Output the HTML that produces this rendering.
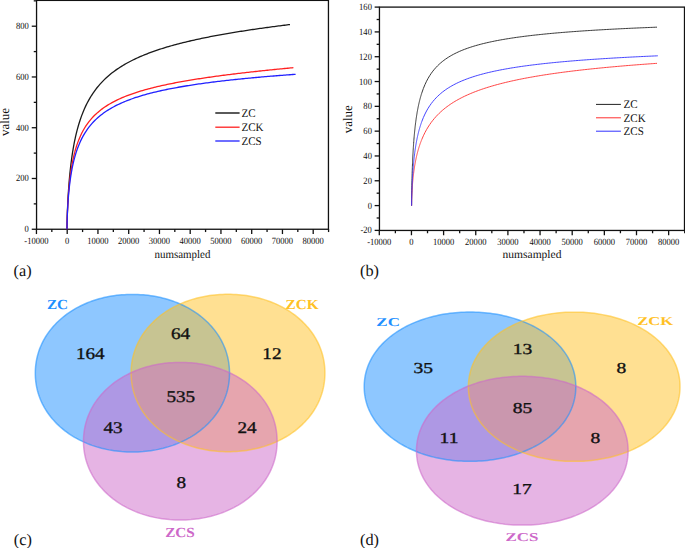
<!DOCTYPE html>
<html><head><meta charset="utf-8"><title>Figure</title>
<style>
html,body{margin:0;padding:0;background:#fff;width:685px;height:548px;overflow:hidden;}
svg{display:block;font-family:"Liberation Serif",serif;text-rendering:geometricPrecision;}
</style></head><body>
<svg width="685" height="548" viewBox="0 0 685 548">
<rect width="685" height="548" fill="#fff"/>
<rect x="36.55" y="0.40" width="291.90" height="228.85" fill="none" stroke="#111" stroke-width="1.30"/>
<line x1="36.45" y1="229.25" x2="36.45" y2="234.05" stroke="#111" stroke-width="1.30"/>
<line x1="51.83" y1="229.25" x2="51.83" y2="232.05" stroke="#111" stroke-width="1.30"/>
<line x1="67.20" y1="229.25" x2="67.20" y2="234.05" stroke="#111" stroke-width="1.30"/>
<line x1="82.58" y1="229.25" x2="82.58" y2="232.05" stroke="#111" stroke-width="1.30"/>
<line x1="97.95" y1="229.25" x2="97.95" y2="234.05" stroke="#111" stroke-width="1.30"/>
<line x1="113.33" y1="229.25" x2="113.33" y2="232.05" stroke="#111" stroke-width="1.30"/>
<line x1="128.70" y1="229.25" x2="128.70" y2="234.05" stroke="#111" stroke-width="1.30"/>
<line x1="144.07" y1="229.25" x2="144.07" y2="232.05" stroke="#111" stroke-width="1.30"/>
<line x1="159.45" y1="229.25" x2="159.45" y2="234.05" stroke="#111" stroke-width="1.30"/>
<line x1="174.82" y1="229.25" x2="174.82" y2="232.05" stroke="#111" stroke-width="1.30"/>
<line x1="190.20" y1="229.25" x2="190.20" y2="234.05" stroke="#111" stroke-width="1.30"/>
<line x1="205.57" y1="229.25" x2="205.57" y2="232.05" stroke="#111" stroke-width="1.30"/>
<line x1="220.95" y1="229.25" x2="220.95" y2="234.05" stroke="#111" stroke-width="1.30"/>
<line x1="236.32" y1="229.25" x2="236.32" y2="232.05" stroke="#111" stroke-width="1.30"/>
<line x1="251.70" y1="229.25" x2="251.70" y2="234.05" stroke="#111" stroke-width="1.30"/>
<line x1="267.07" y1="229.25" x2="267.07" y2="232.05" stroke="#111" stroke-width="1.30"/>
<line x1="282.45" y1="229.25" x2="282.45" y2="234.05" stroke="#111" stroke-width="1.30"/>
<line x1="297.82" y1="229.25" x2="297.82" y2="232.05" stroke="#111" stroke-width="1.30"/>
<line x1="313.20" y1="229.25" x2="313.20" y2="234.05" stroke="#111" stroke-width="1.30"/>
<line x1="328.57" y1="229.25" x2="328.57" y2="232.05" stroke="#111" stroke-width="1.30"/>
<line x1="36.55" y1="229.25" x2="31.75" y2="229.25" stroke="#111" stroke-width="1.30"/>
<line x1="36.55" y1="203.87" x2="33.75" y2="203.87" stroke="#111" stroke-width="1.30"/>
<line x1="36.55" y1="178.49" x2="31.75" y2="178.49" stroke="#111" stroke-width="1.30"/>
<line x1="36.55" y1="153.11" x2="33.75" y2="153.11" stroke="#111" stroke-width="1.30"/>
<line x1="36.55" y1="127.73" x2="31.75" y2="127.73" stroke="#111" stroke-width="1.30"/>
<line x1="36.55" y1="102.35" x2="33.75" y2="102.35" stroke="#111" stroke-width="1.30"/>
<line x1="36.55" y1="76.97" x2="31.75" y2="76.97" stroke="#111" stroke-width="1.30"/>
<line x1="36.55" y1="51.59" x2="33.75" y2="51.59" stroke="#111" stroke-width="1.30"/>
<line x1="36.55" y1="26.21" x2="31.75" y2="26.21" stroke="#111" stroke-width="1.30"/>
<line x1="36.55" y1="0.83" x2="33.75" y2="0.83" stroke="#111" stroke-width="1.30"/>
<text transform="translate(36.45,243.8) scale(0.89,1)" font-family="Liberation Serif" font-size="9.6" text-anchor="middle" fill="#111">-10000</text>
<text transform="translate(67.20,243.8) scale(0.89,1)" font-family="Liberation Serif" font-size="9.6" text-anchor="middle" fill="#111">0</text>
<text transform="translate(97.95,243.8) scale(0.89,1)" font-family="Liberation Serif" font-size="9.6" text-anchor="middle" fill="#111">10000</text>
<text transform="translate(128.70,243.8) scale(0.89,1)" font-family="Liberation Serif" font-size="9.6" text-anchor="middle" fill="#111">20000</text>
<text transform="translate(159.45,243.8) scale(0.89,1)" font-family="Liberation Serif" font-size="9.6" text-anchor="middle" fill="#111">30000</text>
<text transform="translate(190.20,243.8) scale(0.89,1)" font-family="Liberation Serif" font-size="9.6" text-anchor="middle" fill="#111">40000</text>
<text transform="translate(220.95,243.8) scale(0.89,1)" font-family="Liberation Serif" font-size="9.6" text-anchor="middle" fill="#111">50000</text>
<text transform="translate(251.70,243.8) scale(0.89,1)" font-family="Liberation Serif" font-size="9.6" text-anchor="middle" fill="#111">60000</text>
<text transform="translate(282.45,243.8) scale(0.89,1)" font-family="Liberation Serif" font-size="9.6" text-anchor="middle" fill="#111">70000</text>
<text transform="translate(313.20,243.8) scale(0.89,1)" font-family="Liberation Serif" font-size="9.6" text-anchor="middle" fill="#111">80000</text>
<text transform="translate(28.8,232.25) scale(0.89,1)" font-family="Liberation Serif" font-size="9.6" text-anchor="end" fill="#111">0</text>
<text transform="translate(28.8,181.49) scale(0.89,1)" font-family="Liberation Serif" font-size="9.6" text-anchor="end" fill="#111">200</text>
<text transform="translate(28.8,130.73) scale(0.89,1)" font-family="Liberation Serif" font-size="9.6" text-anchor="end" fill="#111">400</text>
<text transform="translate(28.8,79.97) scale(0.89,1)" font-family="Liberation Serif" font-size="9.6" text-anchor="end" fill="#111">600</text>
<text transform="translate(28.8,29.21) scale(0.89,1)" font-family="Liberation Serif" font-size="9.6" text-anchor="end" fill="#111">800</text>
<text transform="translate(182.5,257.7) scale(0.95,1)" font-family="Liberation Serif" font-size="11.5" text-anchor="middle" fill="#111">numsampled</text>
<text transform="translate(8.8,122) rotate(-90)" font-family="Liberation Serif" font-size="13" text-anchor="middle" fill="#111">value</text>
<path d="M67.00,229.20 L67.05,224.88 L67.10,222.28 L67.15,220.12 L67.20,218.21 L67.25,216.48 L67.30,214.87 L67.35,213.36 L67.40,211.94 L67.45,210.59 L67.50,209.30 L67.55,208.07 L67.60,206.88 L67.65,205.74 L67.70,204.64 L67.75,203.57 L67.80,202.53 L67.85,201.52 L67.90,200.55 L67.95,199.59 L68.00,198.66 L68.05,197.76 L68.10,196.87 L68.15,196.01 L68.20,195.16 L68.25,194.34 L68.30,193.53 L68.35,192.73 L68.40,191.95 L68.45,191.19 L68.50,190.44 L68.55,189.70 L68.60,188.98 L68.65,188.27 L68.70,187.57 L68.75,186.88 L68.80,186.20 L68.85,185.54 L68.90,184.88 L68.95,184.24 L69.00,183.60 L69.05,182.97 L69.15,181.74 L69.25,180.54 L69.35,179.37 L69.45,178.23 L69.55,177.12 L69.65,176.03 L69.75,174.98 L69.86,173.94 L69.96,172.93 L70.06,171.94 L70.16,170.98 L70.26,170.03 L70.36,169.10 L70.46,168.20 L70.56,167.30 L70.66,166.43 L70.76,165.57 L70.86,164.73 L70.96,163.91 L71.06,163.09 L71.16,162.30 L71.26,161.51 L71.36,160.74 L71.47,159.98 L71.57,159.24 L71.67,158.50 L71.77,157.78 L71.87,157.07 L71.97,156.37 L72.07,155.68 L72.17,155.00 L72.27,154.34 L72.37,153.68 L72.47,153.03 L72.57,152.39 L72.67,151.75 L72.77,151.13 L72.87,150.52 L72.97,149.91 L73.08,149.31 L73.18,148.72 L73.28,148.14 L73.38,147.56 L73.48,146.99 L73.58,146.43 L73.68,145.88 L73.78,145.33 L73.88,144.79 L73.98,144.25 L74.08,143.73 L74.18,143.20 L74.28,142.69 L74.38,142.18 L74.48,141.67 L74.58,141.18 L74.69,140.68 L74.79,140.19 L74.89,139.71 L74.99,139.24 L75.09,138.76 L75.19,138.30 L75.29,137.83 L75.39,137.38 L75.49,136.92 L75.59,136.48 L75.69,136.03 L75.79,135.59 L75.89,135.16 L75.99,134.73 L76.09,134.30 L76.19,133.88 L76.30,133.46 L76.40,133.05 L76.50,132.64 L76.60,132.23 L76.70,131.83 L76.80,131.43 L76.90,131.04 L77.00,130.65 L77.20,129.88 L78.63,124.77 L80.06,120.22 L81.48,116.12 L82.91,112.41 L84.34,109.02 L85.77,105.90 L87.20,103.02 L88.63,100.35 L90.05,97.86 L91.48,95.53 L92.91,93.35 L94.34,91.30 L95.77,89.36 L97.19,87.53 L98.62,85.80 L100.05,84.15 L101.48,82.58 L102.91,81.08 L104.34,79.66 L105.76,78.29 L107.19,76.99 L108.62,75.73 L110.05,74.53 L111.48,73.37 L112.90,72.26 L114.33,71.19 L115.76,70.15 L117.19,69.15 L118.62,68.19 L120.05,67.25 L121.47,66.35 L122.90,65.48 L124.33,64.63 L125.76,63.80 L127.19,63.00 L128.61,62.23 L130.04,61.47 L131.47,60.74 L132.90,60.02 L134.33,59.33 L135.76,58.65 L137.18,57.99 L138.61,57.34 L140.04,56.71 L141.47,56.09 L142.90,55.49 L144.32,54.91 L145.75,54.33 L147.18,53.77 L148.61,53.22 L150.04,52.68 L151.47,52.16 L152.89,51.64 L154.32,51.13 L155.75,50.64 L157.18,50.15 L158.61,49.68 L160.03,49.21 L161.46,48.75 L162.89,48.30 L164.32,47.85 L165.75,47.42 L167.18,46.99 L168.60,46.57 L170.03,46.16 L171.46,45.75 L172.89,45.35 L174.32,44.96 L175.74,44.57 L177.17,44.19 L178.60,43.81 L180.03,43.44 L181.46,43.08 L182.89,42.72 L184.31,42.36 L185.74,42.01 L187.17,41.67 L188.60,41.33 L190.03,41.00 L191.46,40.67 L192.88,40.34 L194.31,40.02 L195.74,39.70 L197.17,39.39 L198.60,39.08 L200.02,38.77 L201.45,38.47 L202.88,38.17 L204.31,37.88 L205.74,37.59 L207.17,37.30 L208.59,37.02 L210.02,36.73 L211.45,36.46 L212.88,36.18 L214.31,35.91 L215.73,35.64 L217.16,35.38 L218.59,35.11 L220.02,34.85 L221.45,34.59 L222.88,34.34 L224.30,34.09 L225.73,33.84 L227.16,33.59 L228.59,33.34 L230.02,33.10 L231.44,32.86 L232.87,32.62 L234.30,32.39 L235.73,32.15 L237.16,31.92 L238.59,31.69 L240.01,31.46 L241.44,31.24 L242.87,31.02 L244.30,30.79 L245.73,30.57 L247.15,30.36 L248.58,30.14 L250.01,29.93 L251.44,29.71 L252.87,29.50 L254.30,29.30 L255.72,29.09 L257.15,28.88 L258.58,28.68 L260.01,28.48 L261.44,28.27 L262.86,28.08 L264.29,27.88 L265.72,27.68 L267.15,27.49 L268.58,27.29 L270.01,27.10 L271.43,26.91 L272.86,26.72 L274.29,26.53 L275.72,26.34 L277.15,26.16 L278.57,25.97 L280.00,25.79 L281.43,25.61 L282.86,25.43 L284.29,25.25 L285.72,25.07 L287.14,24.89 L288.57,24.72 L290.00,24.54" fill="none" stroke="#1a1a1a" stroke-width="1.3"/>
<path d="M67.00,229.20 L67.05,225.00 L67.10,222.52 L67.15,220.47 L67.20,218.67 L67.25,217.04 L67.30,215.54 L67.35,214.15 L67.40,212.83 L67.45,211.59 L67.50,210.41 L67.55,209.28 L67.60,208.19 L67.65,207.16 L67.70,206.15 L67.75,205.19 L67.80,204.25 L67.85,203.35 L67.90,202.47 L67.95,201.62 L68.00,200.79 L68.05,199.98 L68.10,199.20 L68.15,198.43 L68.20,197.68 L68.25,196.95 L68.30,196.24 L68.35,195.54 L68.40,194.86 L68.45,194.19 L68.50,193.53 L68.55,192.89 L68.60,192.26 L68.65,191.64 L68.70,191.03 L68.75,190.44 L68.80,189.85 L68.85,189.28 L68.90,188.71 L68.95,188.15 L69.00,187.61 L69.05,187.07 L69.15,186.01 L69.25,184.98 L69.35,183.99 L69.45,183.02 L69.55,182.08 L69.65,181.16 L69.75,180.27 L69.86,179.40 L69.96,178.55 L70.06,177.72 L70.16,176.91 L70.26,176.13 L70.36,175.35 L70.46,174.60 L70.56,173.86 L70.66,173.14 L70.76,172.43 L70.86,171.74 L70.96,171.06 L71.06,170.39 L71.16,169.74 L71.26,169.10 L71.36,168.47 L71.47,167.85 L71.57,167.24 L71.67,166.65 L71.77,166.06 L71.87,165.49 L71.97,164.92 L72.07,164.36 L72.17,163.82 L72.27,163.28 L72.37,162.75 L72.47,162.22 L72.57,161.71 L72.67,161.21 L72.77,160.71 L72.87,160.22 L72.97,159.73 L73.08,159.26 L73.18,158.79 L73.28,158.32 L73.38,157.87 L73.48,157.42 L73.58,156.97 L73.68,156.53 L73.78,156.10 L73.88,155.67 L73.98,155.25 L74.08,154.84 L74.18,154.43 L74.28,154.02 L74.38,153.62 L74.48,153.23 L74.58,152.83 L74.69,152.45 L74.79,152.07 L74.89,151.69 L74.99,151.32 L75.09,150.95 L75.19,150.59 L75.29,150.23 L75.39,149.87 L75.49,149.52 L75.59,149.18 L75.69,148.83 L75.79,148.49 L75.89,148.16 L75.99,147.82 L76.09,147.49 L76.19,147.17 L76.30,146.85 L76.40,146.53 L76.50,146.21 L76.60,145.90 L76.70,145.59 L76.80,145.29 L76.90,144.98 L77.00,144.68 L77.20,144.10 L78.65,140.15 L80.10,136.67 L81.55,133.57 L83.00,130.79 L84.46,128.26 L85.91,125.95 L87.36,123.84 L88.81,121.88 L90.26,120.07 L91.71,118.39 L93.16,116.81 L94.61,115.33 L96.06,113.94 L97.51,112.64 L98.97,111.40 L100.42,110.23 L101.87,109.11 L103.32,108.06 L104.77,107.05 L106.22,106.09 L107.67,105.16 L109.12,104.28 L110.57,103.44 L112.02,102.63 L113.48,101.85 L114.93,101.09 L116.38,100.37 L117.83,99.67 L119.28,99.00 L120.73,98.34 L122.18,97.71 L123.63,97.10 L125.08,96.51 L126.53,95.94 L127.99,95.38 L129.44,94.84 L130.89,94.31 L132.34,93.80 L133.79,93.30 L135.24,92.81 L136.69,92.34 L138.14,91.88 L139.59,91.43 L141.04,90.99 L142.50,90.56 L143.95,90.14 L145.40,89.73 L146.85,89.33 L148.30,88.93 L149.75,88.55 L151.20,88.17 L152.65,87.80 L154.10,87.44 L155.55,87.09 L157.01,86.74 L158.46,86.40 L159.91,86.06 L161.36,85.73 L162.81,85.41 L164.26,85.09 L165.71,84.78 L167.16,84.47 L168.61,84.17 L170.06,83.87 L171.52,83.58 L172.97,83.29 L174.42,83.01 L175.87,82.73 L177.32,82.45 L178.77,82.18 L180.22,81.92 L181.67,81.65 L183.12,81.39 L184.57,81.14 L186.03,80.88 L187.48,80.63 L188.93,80.39 L190.38,80.14 L191.83,79.90 L193.28,79.67 L194.73,79.43 L196.18,79.20 L197.63,78.97 L199.08,78.75 L200.54,78.53 L201.99,78.31 L203.44,78.09 L204.89,77.87 L206.34,77.66 L207.79,77.45 L209.24,77.24 L210.69,77.03 L212.14,76.83 L213.59,76.63 L215.05,76.43 L216.50,76.23 L217.95,76.03 L219.40,75.84 L220.85,75.64 L222.30,75.45 L223.75,75.26 L225.20,75.08 L226.65,74.89 L228.10,74.71 L229.56,74.52 L231.01,74.34 L232.46,74.16 L233.91,73.99 L235.36,73.81 L236.81,73.63 L238.26,73.46 L239.71,73.29 L241.16,73.12 L242.61,72.95 L244.07,72.78 L245.52,72.61 L246.97,72.45 L248.42,72.28 L249.87,72.12 L251.32,71.96 L252.77,71.80 L254.22,71.64 L255.67,71.48 L257.12,71.32 L258.58,71.17 L260.03,71.01 L261.48,70.86 L262.93,70.70 L264.38,70.55 L265.83,70.40 L267.28,70.25 L268.73,70.10 L270.18,69.95 L271.63,69.81 L273.09,69.66 L274.54,69.51 L275.99,69.37 L277.44,69.22 L278.89,69.08 L280.34,68.94 L281.79,68.80 L283.24,68.66 L284.69,68.52 L286.14,68.38 L287.60,68.24 L289.05,68.10 L290.50,67.96 L291.95,67.83 L293.40,67.69" fill="none" stroke="#ff2020" stroke-width="1.3"/>
<path d="M67.00,229.20 L67.05,224.96 L67.10,222.58 L67.15,220.64 L67.20,218.96 L67.25,217.43 L67.30,216.04 L67.35,214.74 L67.40,213.53 L67.45,212.38 L67.50,211.29 L67.55,210.25 L67.60,209.25 L67.65,208.30 L67.70,207.38 L67.75,206.49 L67.80,205.64 L67.85,204.81 L67.90,204.00 L67.95,203.22 L68.00,202.46 L68.05,201.72 L68.10,201.00 L68.15,200.30 L68.20,199.61 L68.25,198.94 L68.30,198.28 L68.35,197.64 L68.40,197.02 L68.45,196.40 L68.50,195.80 L68.55,195.21 L68.60,194.63 L68.65,194.06 L68.70,193.50 L68.75,192.95 L68.80,192.42 L68.85,191.89 L68.90,191.36 L68.95,190.85 L69.00,190.35 L69.05,189.85 L69.15,188.88 L69.25,187.93 L69.35,187.01 L69.45,186.11 L69.55,185.24 L69.65,184.40 L69.75,183.57 L69.86,182.76 L69.96,181.98 L70.06,181.21 L70.16,180.46 L70.26,179.72 L70.36,179.01 L70.46,178.30 L70.56,177.61 L70.66,176.94 L70.76,176.28 L70.86,175.63 L70.96,175.00 L71.06,174.37 L71.16,173.76 L71.26,173.16 L71.36,172.57 L71.47,171.99 L71.57,171.42 L71.67,170.86 L71.77,170.31 L71.87,169.77 L71.97,169.23 L72.07,168.71 L72.17,168.19 L72.27,167.68 L72.37,167.18 L72.47,166.69 L72.57,166.20 L72.67,165.72 L72.77,165.25 L72.87,164.79 L72.97,164.33 L73.08,163.87 L73.18,163.43 L73.28,162.99 L73.38,162.55 L73.48,162.12 L73.58,161.70 L73.68,161.28 L73.78,160.87 L73.88,160.46 L73.98,160.06 L74.08,159.66 L74.18,159.27 L74.28,158.88 L74.38,158.50 L74.48,158.12 L74.58,157.75 L74.69,157.38 L74.79,157.01 L74.89,156.65 L74.99,156.29 L75.09,155.94 L75.19,155.59 L75.29,155.24 L75.39,154.90 L75.49,154.56 L75.59,154.23 L75.69,153.90 L75.79,153.57 L75.89,153.24 L75.99,152.92 L76.09,152.60 L76.19,152.29 L76.30,151.98 L76.40,151.67 L76.50,151.36 L76.60,151.06 L76.70,150.76 L76.80,150.46 L76.90,150.17 L77.00,149.88 L77.20,149.31 L78.67,145.42 L80.13,141.98 L81.60,138.90 L83.06,136.12 L84.53,133.59 L85.99,131.28 L87.46,129.14 L88.93,127.17 L90.39,125.33 L91.86,123.62 L93.32,122.02 L94.79,120.52 L96.26,119.10 L97.72,117.76 L99.19,116.50 L100.65,115.30 L102.12,114.16 L103.58,113.08 L105.05,112.04 L106.52,111.05 L107.98,110.11 L109.45,109.21 L110.91,108.34 L112.38,107.51 L113.84,106.71 L115.31,105.94 L116.78,105.19 L118.24,104.48 L119.71,103.79 L121.17,103.12 L122.64,102.48 L124.10,101.85 L125.57,101.25 L127.04,100.66 L128.50,100.10 L129.97,99.54 L131.43,99.01 L132.90,98.49 L134.37,97.98 L135.83,97.49 L137.30,97.01 L138.76,96.55 L140.23,96.09 L141.69,95.65 L143.16,95.22 L144.63,94.80 L146.09,94.39 L147.56,93.99 L149.02,93.60 L150.49,93.21 L151.95,92.84 L153.42,92.47 L154.89,92.11 L156.35,91.76 L157.82,91.42 L159.28,91.08 L160.75,90.75 L162.21,90.43 L163.68,90.11 L165.15,89.80 L166.61,89.50 L168.08,89.20 L169.54,88.91 L171.01,88.62 L172.48,88.33 L173.94,88.06 L175.41,87.78 L176.87,87.52 L178.34,87.25 L179.80,86.99 L181.27,86.74 L182.74,86.49 L184.20,86.24 L185.67,86.00 L187.13,85.76 L188.60,85.52 L190.06,85.29 L191.53,85.07 L193.00,84.84 L194.46,84.62 L195.93,84.40 L197.39,84.19 L198.86,83.98 L200.32,83.77 L201.79,83.56 L203.26,83.36 L204.72,83.16 L206.19,82.96 L207.65,82.77 L209.12,82.57 L210.59,82.38 L212.05,82.20 L213.52,82.01 L214.98,81.83 L216.45,81.65 L217.91,81.47 L219.38,81.30 L220.85,81.12 L222.31,80.95 L223.78,80.78 L225.24,80.61 L226.71,80.45 L228.17,80.29 L229.64,80.12 L231.11,79.96 L232.57,79.81 L234.04,79.65 L235.50,79.49 L236.97,79.34 L238.43,79.19 L239.90,79.04 L241.37,78.89 L242.83,78.75 L244.30,78.60 L245.76,78.46 L247.23,78.32 L248.70,78.18 L250.16,78.04 L251.63,77.90 L253.09,77.76 L254.56,77.63 L256.02,77.49 L257.49,77.36 L258.96,77.23 L260.42,77.10 L261.89,76.97 L263.35,76.84 L264.82,76.72 L266.28,76.59 L267.75,76.47 L269.22,76.34 L270.68,76.22 L272.15,76.10 L273.61,75.98 L275.08,75.86 L276.54,75.74 L278.01,75.63 L279.48,75.51 L280.94,75.40 L282.41,75.28 L283.87,75.17 L285.34,75.06 L286.81,74.95 L288.27,74.84 L289.74,74.73 L291.20,74.62 L292.67,74.51 L294.13,74.40 L295.60,74.30" fill="none" stroke="#2020ff" stroke-width="1.3"/>
<line x1="215.3" y1="113.0" x2="239.6" y2="113.0" stroke="#000" stroke-width="1.3"/>
<text transform="translate(241.4,116.9) scale(0.95,1)" font-family="Liberation Serif" font-size="11.6" fill="#111">ZC</text>
<line x1="215.3" y1="127.2" x2="239.6" y2="127.2" stroke="#ff2020" stroke-width="1.3"/>
<text transform="translate(241.4,131.1) scale(0.95,1)" font-family="Liberation Serif" font-size="11.6" fill="#111">ZCK</text>
<line x1="215.3" y1="141.0" x2="239.6" y2="141.0" stroke="#2020ff" stroke-width="1.3"/>
<text transform="translate(241.4,144.9) scale(0.95,1)" font-family="Liberation Serif" font-size="11.6" fill="#111">ZCS</text>
<text x="13.6" y="275.8" font-family="Liberation Serif" font-size="16.3" fill="#111">(a)</text>
<rect x="379.45" y="7.10" width="305.05" height="223.35" fill="none" stroke="#111" stroke-width="1.30"/>
<line x1="379.30" y1="230.45" x2="379.30" y2="235.25" stroke="#111" stroke-width="1.30"/>
<line x1="395.38" y1="230.45" x2="395.38" y2="233.25" stroke="#111" stroke-width="1.30"/>
<line x1="411.45" y1="230.45" x2="411.45" y2="235.25" stroke="#111" stroke-width="1.30"/>
<line x1="427.52" y1="230.45" x2="427.52" y2="233.25" stroke="#111" stroke-width="1.30"/>
<line x1="443.60" y1="230.45" x2="443.60" y2="235.25" stroke="#111" stroke-width="1.30"/>
<line x1="459.68" y1="230.45" x2="459.68" y2="233.25" stroke="#111" stroke-width="1.30"/>
<line x1="475.75" y1="230.45" x2="475.75" y2="235.25" stroke="#111" stroke-width="1.30"/>
<line x1="491.82" y1="230.45" x2="491.82" y2="233.25" stroke="#111" stroke-width="1.30"/>
<line x1="507.90" y1="230.45" x2="507.90" y2="235.25" stroke="#111" stroke-width="1.30"/>
<line x1="523.98" y1="230.45" x2="523.98" y2="233.25" stroke="#111" stroke-width="1.30"/>
<line x1="540.05" y1="230.45" x2="540.05" y2="235.25" stroke="#111" stroke-width="1.30"/>
<line x1="556.12" y1="230.45" x2="556.12" y2="233.25" stroke="#111" stroke-width="1.30"/>
<line x1="572.20" y1="230.45" x2="572.20" y2="235.25" stroke="#111" stroke-width="1.30"/>
<line x1="588.27" y1="230.45" x2="588.27" y2="233.25" stroke="#111" stroke-width="1.30"/>
<line x1="604.35" y1="230.45" x2="604.35" y2="235.25" stroke="#111" stroke-width="1.30"/>
<line x1="620.42" y1="230.45" x2="620.42" y2="233.25" stroke="#111" stroke-width="1.30"/>
<line x1="636.50" y1="230.45" x2="636.50" y2="235.25" stroke="#111" stroke-width="1.30"/>
<line x1="652.58" y1="230.45" x2="652.58" y2="233.25" stroke="#111" stroke-width="1.30"/>
<line x1="668.65" y1="230.45" x2="668.65" y2="235.25" stroke="#111" stroke-width="1.30"/>
<line x1="684.72" y1="230.45" x2="684.72" y2="233.25" stroke="#111" stroke-width="1.30"/>
<line x1="379.45" y1="230.39" x2="374.65" y2="230.39" stroke="#111" stroke-width="1.30"/>
<line x1="379.45" y1="217.99" x2="376.65" y2="217.99" stroke="#111" stroke-width="1.30"/>
<line x1="379.45" y1="205.58" x2="374.65" y2="205.58" stroke="#111" stroke-width="1.30"/>
<line x1="379.45" y1="193.18" x2="376.65" y2="193.18" stroke="#111" stroke-width="1.30"/>
<line x1="379.45" y1="180.77" x2="374.65" y2="180.77" stroke="#111" stroke-width="1.30"/>
<line x1="379.45" y1="168.37" x2="376.65" y2="168.37" stroke="#111" stroke-width="1.30"/>
<line x1="379.45" y1="155.96" x2="374.65" y2="155.96" stroke="#111" stroke-width="1.30"/>
<line x1="379.45" y1="143.56" x2="376.65" y2="143.56" stroke="#111" stroke-width="1.30"/>
<line x1="379.45" y1="131.15" x2="374.65" y2="131.15" stroke="#111" stroke-width="1.30"/>
<line x1="379.45" y1="118.75" x2="376.65" y2="118.75" stroke="#111" stroke-width="1.30"/>
<line x1="379.45" y1="106.34" x2="374.65" y2="106.34" stroke="#111" stroke-width="1.30"/>
<line x1="379.45" y1="93.94" x2="376.65" y2="93.94" stroke="#111" stroke-width="1.30"/>
<line x1="379.45" y1="81.53" x2="374.65" y2="81.53" stroke="#111" stroke-width="1.30"/>
<line x1="379.45" y1="69.13" x2="376.65" y2="69.13" stroke="#111" stroke-width="1.30"/>
<line x1="379.45" y1="56.72" x2="374.65" y2="56.72" stroke="#111" stroke-width="1.30"/>
<line x1="379.45" y1="44.32" x2="376.65" y2="44.32" stroke="#111" stroke-width="1.30"/>
<line x1="379.45" y1="31.91" x2="374.65" y2="31.91" stroke="#111" stroke-width="1.30"/>
<line x1="379.45" y1="19.51" x2="376.65" y2="19.51" stroke="#111" stroke-width="1.30"/>
<line x1="379.45" y1="7.10" x2="374.65" y2="7.10" stroke="#111" stroke-width="1.30"/>
<text transform="translate(379.30,244.8) scale(0.89,1)" font-family="Liberation Serif" font-size="9.6" text-anchor="middle" fill="#111">-10000</text>
<text transform="translate(411.45,244.8) scale(0.89,1)" font-family="Liberation Serif" font-size="9.6" text-anchor="middle" fill="#111">0</text>
<text transform="translate(443.60,244.8) scale(0.89,1)" font-family="Liberation Serif" font-size="9.6" text-anchor="middle" fill="#111">10000</text>
<text transform="translate(475.75,244.8) scale(0.89,1)" font-family="Liberation Serif" font-size="9.6" text-anchor="middle" fill="#111">20000</text>
<text transform="translate(507.90,244.8) scale(0.89,1)" font-family="Liberation Serif" font-size="9.6" text-anchor="middle" fill="#111">30000</text>
<text transform="translate(540.05,244.8) scale(0.89,1)" font-family="Liberation Serif" font-size="9.6" text-anchor="middle" fill="#111">40000</text>
<text transform="translate(572.20,244.8) scale(0.89,1)" font-family="Liberation Serif" font-size="9.6" text-anchor="middle" fill="#111">50000</text>
<text transform="translate(604.35,244.8) scale(0.89,1)" font-family="Liberation Serif" font-size="9.6" text-anchor="middle" fill="#111">60000</text>
<text transform="translate(636.50,244.8) scale(0.89,1)" font-family="Liberation Serif" font-size="9.6" text-anchor="middle" fill="#111">70000</text>
<text transform="translate(668.65,244.8) scale(0.89,1)" font-family="Liberation Serif" font-size="9.6" text-anchor="middle" fill="#111">80000</text>
<text transform="translate(371.9,233.39) scale(0.89,1)" font-family="Liberation Serif" font-size="9.6" text-anchor="end" fill="#111">-20</text>
<text transform="translate(371.9,208.58) scale(0.89,1)" font-family="Liberation Serif" font-size="9.6" text-anchor="end" fill="#111">0</text>
<text transform="translate(371.9,183.77) scale(0.89,1)" font-family="Liberation Serif" font-size="9.6" text-anchor="end" fill="#111">20</text>
<text transform="translate(371.9,158.96) scale(0.89,1)" font-family="Liberation Serif" font-size="9.6" text-anchor="end" fill="#111">40</text>
<text transform="translate(371.9,134.15) scale(0.89,1)" font-family="Liberation Serif" font-size="9.6" text-anchor="end" fill="#111">60</text>
<text transform="translate(371.9,109.34) scale(0.89,1)" font-family="Liberation Serif" font-size="9.6" text-anchor="end" fill="#111">80</text>
<text transform="translate(371.9,84.53) scale(0.89,1)" font-family="Liberation Serif" font-size="9.6" text-anchor="end" fill="#111">100</text>
<text transform="translate(371.9,59.72) scale(0.89,1)" font-family="Liberation Serif" font-size="9.6" text-anchor="end" fill="#111">120</text>
<text transform="translate(371.9,34.91) scale(0.89,1)" font-family="Liberation Serif" font-size="9.6" text-anchor="end" fill="#111">140</text>
<text transform="translate(371.9,10.10) scale(0.89,1)" font-family="Liberation Serif" font-size="9.6" text-anchor="end" fill="#111">160</text>
<text x="532" y="257.7" font-family="Liberation Serif" font-size="11.5" text-anchor="middle" fill="#111">numsampled</text>
<text transform="translate(351.7,119.2) rotate(-90)" font-family="Liberation Serif" font-size="13" text-anchor="middle" fill="#111">value</text>
<path d="M411.60,205.70 L411.65,198.18 L411.70,194.03 L411.75,190.70 L411.80,187.83 L411.85,185.27 L411.90,182.94 L411.95,180.80 L412.00,178.81 L412.05,176.94 L412.10,175.18 L412.15,173.52 L412.20,171.93 L412.25,170.42 L412.30,168.98 L412.35,167.59 L412.40,166.26 L412.45,164.97 L412.50,163.74 L412.55,162.54 L412.60,161.39 L412.65,160.27 L412.70,159.18 L412.75,158.13 L412.80,157.10 L412.85,156.11 L412.90,155.14 L412.95,154.19 L413.00,153.27 L413.05,152.38 L413.10,151.50 L413.15,150.64 L413.20,149.81 L413.25,148.99 L413.30,148.19 L413.35,147.40 L413.40,146.64 L413.45,145.89 L413.50,145.15 L413.55,144.43 L413.60,143.72 L413.65,143.02 L413.75,141.66 L413.85,140.35 L413.95,139.09 L414.05,137.86 L414.15,136.68 L414.25,135.53 L414.35,134.41 L414.46,133.34 L414.56,132.29 L414.66,131.27 L414.76,130.28 L414.86,129.31 L414.96,128.37 L415.06,127.46 L415.16,126.56 L415.26,125.69 L415.36,124.84 L415.46,124.01 L415.56,123.20 L415.66,122.41 L415.76,121.64 L415.86,120.88 L415.96,120.14 L416.07,119.41 L416.17,118.70 L416.27,118.00 L416.37,117.32 L416.47,116.65 L416.57,116.00 L416.67,115.35 L416.77,114.72 L416.87,114.10 L416.97,113.49 L417.07,112.89 L417.17,112.31 L417.27,111.73 L417.37,111.16 L417.47,110.61 L417.57,110.06 L417.68,109.52 L417.78,108.99 L417.88,108.47 L417.98,107.95 L418.08,107.45 L418.18,106.95 L418.28,106.46 L418.38,105.98 L418.48,105.50 L418.58,105.04 L418.68,104.57 L418.78,104.12 L418.88,103.67 L418.98,103.23 L419.08,102.80 L419.18,102.37 L419.29,101.94 L419.39,101.52 L419.49,101.11 L419.59,100.71 L419.69,100.31 L419.79,99.91 L419.89,99.52 L419.99,99.13 L420.09,98.75 L420.19,98.38 L420.29,98.00 L420.39,97.64 L420.49,97.27 L420.59,96.92 L420.69,96.56 L420.79,96.21 L420.90,95.87 L421.00,95.53 L421.10,95.19 L421.20,94.86 L421.30,94.53 L421.40,94.20 L421.50,93.88 L421.60,93.56 L421.80,92.94 L423.38,88.45 L424.96,84.61 L426.54,81.26 L428.11,78.30 L429.69,75.67 L431.27,73.31 L432.85,71.17 L434.43,69.22 L436.01,67.44 L437.59,65.79 L439.16,64.28 L440.74,62.87 L442.32,61.56 L443.90,60.33 L445.48,59.18 L447.06,58.10 L448.63,57.09 L450.21,56.13 L451.79,55.22 L453.37,54.36 L454.95,53.55 L456.53,52.77 L458.11,52.03 L459.68,51.32 L461.26,50.65 L462.84,50.01 L464.42,49.39 L466.00,48.80 L467.58,48.23 L469.16,47.68 L470.73,47.16 L472.31,46.65 L473.89,46.17 L475.47,45.70 L477.05,45.24 L478.63,44.80 L480.21,44.38 L481.78,43.97 L483.36,43.57 L484.94,43.19 L486.52,42.82 L488.10,42.46 L489.68,42.11 L491.26,41.77 L492.83,41.44 L494.41,41.11 L495.99,40.80 L497.57,40.50 L499.15,40.20 L500.73,39.91 L502.30,39.63 L503.88,39.36 L505.46,39.09 L507.04,38.83 L508.62,38.58 L510.20,38.33 L511.78,38.09 L513.35,37.85 L514.93,37.62 L516.51,37.39 L518.09,37.17 L519.67,36.96 L521.25,36.75 L522.83,36.54 L524.40,36.34 L525.98,36.14 L527.56,35.94 L529.14,35.75 L530.72,35.57 L532.30,35.38 L533.88,35.20 L535.45,35.03 L537.03,34.86 L538.61,34.69 L540.19,34.52 L541.77,34.36 L543.35,34.20 L544.92,34.04 L546.50,33.88 L548.08,33.73 L549.66,33.58 L551.24,33.44 L552.82,33.29 L554.40,33.15 L555.97,33.01 L557.55,32.87 L559.13,32.74 L560.71,32.61 L562.29,32.48 L563.87,32.35 L565.45,32.22 L567.02,32.10 L568.60,31.97 L570.18,31.85 L571.76,31.74 L573.34,31.62 L574.92,31.50 L576.50,31.39 L578.07,31.28 L579.65,31.17 L581.23,31.06 L582.81,30.95 L584.39,30.84 L585.97,30.74 L587.54,30.64 L589.12,30.54 L590.70,30.44 L592.28,30.34 L593.86,30.24 L595.44,30.14 L597.02,30.05 L598.59,29.95 L600.17,29.86 L601.75,29.77 L603.33,29.68 L604.91,29.59 L606.49,29.50 L608.07,29.42 L609.64,29.33 L611.22,29.25 L612.80,29.16 L614.38,29.08 L615.96,29.00 L617.54,28.92 L619.12,28.84 L620.69,28.76 L622.27,28.68 L623.85,28.61 L625.43,28.53 L627.01,28.45 L628.59,28.38 L630.17,28.31 L631.74,28.23 L633.32,28.16 L634.90,28.09 L636.48,28.02 L638.06,27.95 L639.64,27.88 L641.21,27.81 L642.79,27.75 L644.37,27.68 L645.95,27.61 L647.53,27.55 L649.11,27.48 L650.69,27.42 L652.26,27.36 L653.84,27.29 L655.42,27.23 L657.00,27.17" fill="none" stroke="#222" stroke-width="0.9"/>
<path d="M411.60,205.70 L411.65,201.52 L411.70,199.43 L411.75,197.77 L411.80,196.34 L411.85,195.08 L411.90,193.92 L411.95,192.86 L412.00,191.87 L412.05,190.93 L412.10,190.05 L412.15,189.21 L412.20,188.41 L412.25,187.64 L412.30,186.90 L412.35,186.19 L412.40,185.51 L412.45,184.84 L412.50,184.20 L412.55,183.58 L412.60,182.97 L412.65,182.38 L412.70,181.81 L412.75,181.25 L412.80,180.70 L412.85,180.17 L412.90,179.65 L412.95,179.14 L413.00,178.64 L413.05,178.15 L413.10,177.67 L413.15,177.20 L413.20,176.74 L413.25,176.28 L413.30,175.84 L413.35,175.40 L413.40,174.97 L413.45,174.55 L413.50,174.14 L413.55,173.73 L413.60,173.33 L413.65,172.93 L413.75,172.15 L413.85,171.39 L413.95,170.66 L414.05,169.94 L414.15,169.25 L414.25,168.57 L414.35,167.90 L414.46,167.25 L414.56,166.62 L414.66,166.00 L414.76,165.40 L414.86,164.81 L414.96,164.23 L415.06,163.66 L415.16,163.10 L415.26,162.55 L415.36,162.02 L415.46,161.49 L415.56,160.97 L415.66,160.47 L415.76,159.97 L415.86,159.48 L415.96,158.99 L416.07,158.52 L416.17,158.05 L416.27,157.59 L416.37,157.14 L416.47,156.69 L416.57,156.25 L416.67,155.82 L416.77,155.40 L416.87,154.98 L416.97,154.56 L417.07,154.15 L417.17,153.75 L417.27,153.35 L417.37,152.96 L417.47,152.57 L417.57,152.19 L417.68,151.81 L417.78,151.44 L417.88,151.07 L417.98,150.71 L418.08,150.35 L418.18,150.00 L418.28,149.65 L418.38,149.30 L418.48,148.96 L418.58,148.62 L418.68,148.29 L418.78,147.95 L418.88,147.63 L418.98,147.30 L419.08,146.98 L419.18,146.67 L419.29,146.35 L419.39,146.04 L419.49,145.74 L419.59,145.43 L419.69,145.13 L419.79,144.83 L419.89,144.54 L419.99,144.25 L420.09,143.96 L420.19,143.67 L420.29,143.39 L420.39,143.11 L420.49,142.83 L420.59,142.55 L420.69,142.28 L420.79,142.01 L420.90,141.74 L421.00,141.47 L421.10,141.21 L421.20,140.95 L421.30,140.69 L421.40,140.43 L421.50,140.18 L421.60,139.93 L421.80,139.43 L423.38,135.79 L424.96,132.55 L426.54,129.64 L428.11,127.00 L429.69,124.58 L431.27,122.35 L432.85,120.29 L434.43,118.38 L436.01,116.59 L437.59,114.91 L439.16,113.34 L440.74,111.85 L442.32,110.45 L443.90,109.12 L445.48,107.85 L447.06,106.65 L448.63,105.50 L450.21,104.40 L451.79,103.35 L453.37,102.35 L454.95,101.39 L456.53,100.46 L458.11,99.57 L459.68,98.71 L461.26,97.89 L462.84,97.09 L464.42,96.32 L466.00,95.58 L467.58,94.86 L469.16,94.16 L470.73,93.49 L472.31,92.83 L473.89,92.20 L475.47,91.58 L477.05,90.99 L478.63,90.40 L480.21,89.84 L481.78,89.29 L483.36,88.75 L484.94,88.23 L486.52,87.72 L488.10,87.22 L489.68,86.74 L491.26,86.27 L492.83,85.81 L494.41,85.36 L495.99,84.92 L497.57,84.49 L499.15,84.07 L500.73,83.65 L502.30,83.25 L503.88,82.86 L505.46,82.47 L507.04,82.09 L508.62,81.72 L510.20,81.36 L511.78,81.00 L513.35,80.66 L514.93,80.31 L516.51,79.98 L518.09,79.65 L519.67,79.32 L521.25,79.01 L522.83,78.70 L524.40,78.39 L525.98,78.09 L527.56,77.79 L529.14,77.50 L530.72,77.22 L532.30,76.94 L533.88,76.66 L535.45,76.39 L537.03,76.12 L538.61,75.86 L540.19,75.60 L541.77,75.34 L543.35,75.09 L544.92,74.84 L546.50,74.60 L548.08,74.36 L549.66,74.12 L551.24,73.89 L552.82,73.66 L554.40,73.44 L555.97,73.21 L557.55,72.99 L559.13,72.78 L560.71,72.56 L562.29,72.35 L563.87,72.14 L565.45,71.94 L567.02,71.74 L568.60,71.54 L570.18,71.34 L571.76,71.15 L573.34,70.95 L574.92,70.76 L576.50,70.58 L578.07,70.39 L579.65,70.21 L581.23,70.03 L582.81,69.85 L584.39,69.67 L585.97,69.50 L587.54,69.33 L589.12,69.16 L590.70,68.99 L592.28,68.82 L593.86,68.66 L595.44,68.50 L597.02,68.34 L598.59,68.18 L600.17,68.02 L601.75,67.87 L603.33,67.72 L604.91,67.56 L606.49,67.41 L608.07,67.27 L609.64,67.12 L611.22,66.97 L612.80,66.83 L614.38,66.69 L615.96,66.55 L617.54,66.41 L619.12,66.27 L620.69,66.13 L622.27,66.00 L623.85,65.87 L625.43,65.73 L627.01,65.60 L628.59,65.47 L630.17,65.34 L631.74,65.22 L633.32,65.09 L634.90,64.97 L636.48,64.84 L638.06,64.72 L639.64,64.60 L641.21,64.48 L642.79,64.36 L644.37,64.24 L645.95,64.13 L647.53,64.01 L649.11,63.89 L650.69,63.78 L652.26,63.67 L653.84,63.56 L655.42,63.45 L657.00,63.34" fill="none" stroke="#ff3030" stroke-width="0.9"/>
<path d="M411.60,205.70 L411.65,200.84 L411.70,198.14 L411.75,195.95 L411.80,194.05 L411.85,192.34 L411.90,190.78 L411.95,189.34 L412.00,187.99 L412.05,186.71 L412.10,185.51 L412.15,184.36 L412.20,183.27 L412.25,182.22 L412.30,181.21 L412.35,180.24 L412.40,179.30 L412.45,178.40 L412.50,177.52 L412.55,176.68 L412.60,175.85 L412.65,175.05 L412.70,174.27 L412.75,173.52 L412.80,172.78 L412.85,172.06 L412.90,171.35 L412.95,170.67 L413.00,169.99 L413.05,169.34 L413.10,168.69 L413.15,168.06 L413.20,167.45 L413.25,166.84 L413.30,166.25 L413.35,165.67 L413.40,165.10 L413.45,164.54 L413.50,163.99 L413.55,163.45 L413.60,162.91 L413.65,162.39 L413.75,161.36 L413.85,160.37 L413.95,159.41 L414.05,158.47 L414.15,157.56 L414.25,156.68 L414.35,155.82 L414.46,154.98 L414.56,154.17 L414.66,153.37 L414.76,152.60 L414.86,151.84 L414.96,151.10 L415.06,150.38 L415.16,149.67 L415.26,148.98 L415.36,148.31 L415.46,147.65 L415.56,147.00 L415.66,146.36 L415.76,145.74 L415.86,145.13 L415.96,144.53 L416.07,143.94 L416.17,143.37 L416.27,142.80 L416.37,142.24 L416.47,141.70 L416.57,141.16 L416.67,140.63 L416.77,140.11 L416.87,139.60 L416.97,139.10 L417.07,138.60 L417.17,138.12 L417.27,137.64 L417.37,137.17 L417.47,136.70 L417.57,136.25 L417.68,135.80 L417.78,135.35 L417.88,134.91 L417.98,134.48 L418.08,134.06 L418.18,133.64 L418.28,133.22 L418.38,132.82 L418.48,132.41 L418.58,132.02 L418.68,131.62 L418.78,131.24 L418.88,130.86 L418.98,130.48 L419.08,130.11 L419.18,129.74 L419.29,129.38 L419.39,129.02 L419.49,128.66 L419.59,128.31 L419.69,127.97 L419.79,127.63 L419.89,127.29 L419.99,126.95 L420.09,126.62 L420.19,126.30 L420.29,125.97 L420.39,125.66 L420.49,125.34 L420.59,125.03 L420.69,124.72 L420.79,124.41 L420.90,124.11 L421.00,123.81 L421.10,123.52 L421.20,123.22 L421.30,122.93 L421.40,122.65 L421.50,122.36 L421.60,122.08 L421.80,121.53 L423.38,117.52 L424.97,114.04 L426.55,110.96 L428.14,108.22 L429.72,105.76 L431.30,103.52 L432.89,101.49 L434.47,99.62 L436.06,97.90 L437.64,96.30 L439.22,94.82 L440.81,93.44 L442.39,92.14 L443.97,90.93 L445.56,89.78 L447.14,88.70 L448.73,87.69 L450.31,86.72 L451.89,85.80 L453.48,84.93 L455.06,84.10 L456.65,83.31 L458.23,82.55 L459.81,81.83 L461.40,81.14 L462.98,80.47 L464.57,79.83 L466.15,79.22 L467.73,78.63 L469.32,78.06 L470.90,77.52 L472.48,76.99 L474.07,76.48 L475.65,75.98 L477.24,75.51 L478.82,75.05 L480.40,74.60 L481.99,74.17 L483.57,73.75 L485.16,73.34 L486.74,72.95 L488.32,72.57 L489.91,72.19 L491.49,71.83 L493.08,71.48 L494.66,71.13 L496.24,70.80 L497.83,70.48 L499.41,70.16 L500.99,69.85 L502.58,69.55 L504.16,69.25 L505.75,68.97 L507.33,68.69 L508.91,68.41 L510.50,68.14 L512.08,67.88 L513.67,67.63 L515.25,67.38 L516.83,67.13 L518.42,66.89 L520.00,66.66 L521.59,66.43 L523.17,66.20 L524.75,65.98 L526.34,65.77 L527.92,65.55 L529.50,65.35 L531.09,65.14 L532.67,64.94 L534.26,64.75 L535.84,64.55 L537.42,64.36 L539.01,64.18 L540.59,64.00 L542.18,63.82 L543.76,63.64 L545.34,63.47 L546.93,63.30 L548.51,63.13 L550.10,62.97 L551.68,62.81 L553.26,62.65 L554.85,62.49 L556.43,62.34 L558.01,62.19 L559.60,62.04 L561.18,61.89 L562.77,61.75 L564.35,61.60 L565.93,61.46 L567.52,61.33 L569.10,61.19 L570.69,61.06 L572.27,60.93 L573.85,60.80 L575.44,60.67 L577.02,60.54 L578.61,60.42 L580.19,60.29 L581.77,60.17 L583.36,60.05 L584.94,59.94 L586.52,59.82 L588.11,59.70 L589.69,59.59 L591.28,59.48 L592.86,59.37 L594.44,59.26 L596.03,59.15 L597.61,59.05 L599.20,58.94 L600.78,58.84 L602.36,58.74 L603.95,58.64 L605.53,58.54 L607.12,58.44 L608.70,58.34 L610.28,58.25 L611.87,58.15 L613.45,58.06 L615.03,57.96 L616.62,57.87 L618.20,57.78 L619.79,57.69 L621.37,57.60 L622.95,57.52 L624.54,57.43 L626.12,57.35 L627.71,57.26 L629.29,57.18 L630.87,57.09 L632.46,57.01 L634.04,56.93 L635.63,56.85 L637.21,56.77 L638.79,56.69 L640.38,56.62 L641.96,56.54 L643.54,56.46 L645.13,56.39 L646.71,56.31 L648.30,56.24 L649.88,56.17 L651.46,56.10 L653.05,56.02 L654.63,55.95 L656.22,55.88 L657.80,55.81" fill="none" stroke="#3030ff" stroke-width="0.9"/>
<line x1="596" y1="104.4" x2="620.9" y2="104.4" stroke="#222" stroke-width="1"/>
<text transform="translate(623.6,108.3) scale(0.95,1)" font-family="Liberation Serif" font-size="11.6" fill="#111">ZC</text>
<line x1="596" y1="117.8" x2="620.9" y2="117.8" stroke="#ff3030" stroke-width="1"/>
<text transform="translate(623.6,121.7) scale(0.95,1)" font-family="Liberation Serif" font-size="11.6" fill="#111">ZCK</text>
<line x1="596" y1="131.2" x2="620.9" y2="131.2" stroke="#3030ff" stroke-width="1"/>
<text transform="translate(623.6,135.1) scale(0.95,1)" font-family="Liberation Serif" font-size="11.6" fill="#111">ZCS</text>
<text x="360" y="275.8" font-family="Liberation Serif" font-size="16.3" fill="#111">(b)</text>
<path d="M229.50,373.20 L229.47,375.45 L229.37,377.63 L229.21,379.78 L228.98,381.90 L228.69,384.01 L228.33,386.10 L227.91,388.17 L227.43,390.22 L226.88,392.26 L226.27,394.28 L225.60,396.28 L224.86,398.26 L224.06,400.22 L223.20,402.16 L222.28,404.07 L221.30,405.96 L220.26,407.83 L219.16,409.67 L218.00,411.48 L216.79,413.27 L215.51,415.03 L214.19,416.76 L212.80,418.46 L211.36,420.12 L209.87,421.75 L208.33,423.35 L206.73,424.92 L205.08,426.45 L203.39,427.94 L201.64,429.39 L199.85,430.81 L198.01,432.19 L196.13,433.52 L194.20,434.82 L192.23,436.07 L190.22,437.28 L188.17,438.45 L186.07,439.57 L183.94,440.65 L181.78,441.68 L179.58,442.67 L177.34,443.61 L175.07,444.50 L172.77,445.35 L170.44,446.14 L168.08,446.89 L165.69,447.59 L163.28,448.24 L160.84,448.83 L158.37,449.38 L155.89,449.88 L153.38,450.32 L150.85,450.71 L148.29,451.05 L145.72,451.34 L143.12,451.58 L140.51,451.76 L137.86,451.89 L135.18,451.97 L132.40,452.00 L129.62,451.97 L126.94,451.89 L124.29,451.76 L121.68,451.58 L119.08,451.34 L116.51,451.05 L113.95,450.71 L111.42,450.32 L108.91,449.88 L106.43,449.38 L103.96,448.83 L101.52,448.24 L99.11,447.59 L96.72,446.89 L94.36,446.14 L92.03,445.35 L89.73,444.50 L87.46,443.61 L85.22,442.67 L83.02,441.68 L80.86,440.65 L78.73,439.57 L76.63,438.45 L74.58,437.28 L72.57,436.07 L70.60,434.82 L68.67,433.52 L66.79,432.19 L64.95,430.81 L63.16,429.39 L61.41,427.94 L59.72,426.45 L58.07,424.92 L56.47,423.35 L54.93,421.75 L53.44,420.12 L52.00,418.46 L50.61,416.76 L49.29,415.03 L48.01,413.27 L46.80,411.48 L45.64,409.67 L44.54,407.83 L43.50,405.96 L42.52,404.07 L41.60,402.16 L40.74,400.22 L39.94,398.26 L39.20,396.28 L38.53,394.28 L37.92,392.26 L37.37,390.22 L36.89,388.17 L36.47,386.10 L36.11,384.01 L35.82,381.90 L35.59,379.78 L35.43,377.63 L35.33,375.45 L35.30,373.20 L35.33,370.95 L35.43,368.77 L35.59,366.62 L35.82,364.50 L36.11,362.39 L36.47,360.30 L36.89,358.23 L37.37,356.18 L37.92,354.14 L38.53,352.12 L39.20,350.12 L39.94,348.14 L40.74,346.18 L41.60,344.24 L42.52,342.33 L43.50,340.44 L44.54,338.57 L45.64,336.73 L46.80,334.92 L48.01,333.13 L49.29,331.37 L50.61,329.64 L52.00,327.94 L53.44,326.28 L54.93,324.65 L56.47,323.05 L58.07,321.48 L59.72,319.95 L61.41,318.46 L63.16,317.01 L64.95,315.59 L66.79,314.21 L68.67,312.88 L70.60,311.58 L72.57,310.33 L74.58,309.12 L76.63,307.95 L78.73,306.83 L80.86,305.75 L83.02,304.72 L85.22,303.73 L87.46,302.79 L89.73,301.90 L92.03,301.05 L94.36,300.26 L96.72,299.51 L99.11,298.81 L101.52,298.16 L103.96,297.57 L106.43,297.02 L108.91,296.52 L111.42,296.08 L113.95,295.69 L116.51,295.35 L119.08,295.06 L121.68,294.82 L124.29,294.64 L126.94,294.51 L129.62,294.43 L132.40,294.40 L135.18,294.43 L137.86,294.51 L140.51,294.64 L143.12,294.82 L145.72,295.06 L148.29,295.35 L150.85,295.69 L153.38,296.08 L155.89,296.52 L158.37,297.02 L160.84,297.57 L163.28,298.16 L165.69,298.81 L168.08,299.51 L170.44,300.26 L172.77,301.05 L175.07,301.90 L177.34,302.79 L179.58,303.73 L181.78,304.72 L183.94,305.75 L186.07,306.83 L188.17,307.95 L190.22,309.12 L192.23,310.33 L194.20,311.58 L196.13,312.88 L198.01,314.21 L199.85,315.59 L201.64,317.01 L203.39,318.46 L205.08,319.95 L206.73,321.48 L208.33,323.05 L209.87,324.65 L211.36,326.28 L212.80,327.94 L214.19,329.64 L215.51,331.37 L216.79,333.13 L218.00,334.92 L219.16,336.73 L220.26,338.57 L221.30,340.44 L222.28,342.33 L223.20,344.24 L224.06,346.18 L224.86,348.14 L225.60,350.12 L226.27,352.12 L226.88,354.14 L227.43,356.18 L227.91,358.23 L228.33,360.30 L228.69,362.39 L228.98,364.50 L229.21,366.62 L229.37,368.77 L229.47,370.95 Z" fill="rgb(30,144,255)" fill-opacity="0.5"/>
<path d="M324.90,373.00 L324.87,375.25 L324.77,377.43 L324.61,379.57 L324.38,381.69 L324.09,383.80 L323.74,385.88 L323.32,387.95 L322.83,390.00 L322.29,392.04 L321.68,394.05 L321.00,396.05 L320.27,398.03 L319.47,399.98 L318.62,401.92 L317.70,403.83 L316.72,405.72 L315.68,407.58 L314.58,409.42 L313.43,411.24 L312.21,413.02 L310.94,414.78 L309.62,416.50 L308.24,418.20 L306.80,419.86 L305.31,421.49 L303.77,423.09 L302.18,424.65 L300.53,426.18 L298.84,427.67 L297.10,429.12 L295.31,430.54 L293.48,431.91 L291.60,433.25 L289.67,434.54 L287.71,435.79 L285.70,437.00 L283.65,438.17 L281.56,439.29 L279.44,440.36 L277.28,441.40 L275.08,442.38 L272.85,443.32 L270.58,444.21 L268.29,445.05 L265.96,445.85 L263.61,446.60 L261.22,447.29 L258.81,447.94 L256.38,448.54 L253.92,449.08 L251.44,449.58 L248.93,450.02 L246.41,450.41 L243.86,450.75 L241.29,451.04 L238.70,451.28 L236.09,451.46 L233.45,451.59 L230.77,451.67 L228.00,451.70 L225.23,451.67 L222.55,451.59 L219.91,451.46 L217.30,451.28 L214.71,451.04 L212.14,450.75 L209.59,450.41 L207.07,450.02 L204.56,449.58 L202.08,449.08 L199.62,448.54 L197.19,447.94 L194.78,447.29 L192.39,446.60 L190.04,445.85 L187.71,445.05 L185.42,444.21 L183.15,443.32 L180.92,442.38 L178.72,441.40 L176.56,440.36 L174.44,439.29 L172.35,438.17 L170.30,437.00 L168.29,435.79 L166.33,434.54 L164.40,433.25 L162.52,431.91 L160.69,430.54 L158.90,429.12 L157.16,427.67 L155.47,426.18 L153.82,424.65 L152.23,423.09 L150.69,421.49 L149.20,419.86 L147.76,418.20 L146.38,416.50 L145.06,414.78 L143.79,413.02 L142.57,411.24 L141.42,409.42 L140.32,407.58 L139.28,405.72 L138.30,403.83 L137.38,401.92 L136.53,399.98 L135.73,398.03 L135.00,396.05 L134.32,394.05 L133.71,392.04 L133.17,390.00 L132.68,387.95 L132.26,385.88 L131.91,383.80 L131.62,381.69 L131.39,379.57 L131.23,377.43 L131.13,375.25 L131.10,373.00 L131.13,370.75 L131.23,368.57 L131.39,366.43 L131.62,364.31 L131.91,362.20 L132.26,360.12 L132.68,358.05 L133.17,356.00 L133.71,353.96 L134.32,351.95 L135.00,349.95 L135.73,347.97 L136.53,346.02 L137.38,344.08 L138.30,342.17 L139.28,340.28 L140.32,338.42 L141.42,336.58 L142.57,334.76 L143.79,332.98 L145.06,331.22 L146.38,329.50 L147.76,327.80 L149.20,326.14 L150.69,324.51 L152.23,322.91 L153.82,321.35 L155.47,319.82 L157.16,318.33 L158.90,316.88 L160.69,315.46 L162.52,314.09 L164.40,312.75 L166.33,311.46 L168.29,310.21 L170.30,309.00 L172.35,307.83 L174.44,306.71 L176.56,305.64 L178.72,304.60 L180.92,303.62 L183.15,302.68 L185.42,301.79 L187.71,300.95 L190.04,300.15 L192.39,299.40 L194.78,298.71 L197.19,298.06 L199.62,297.46 L202.08,296.92 L204.56,296.42 L207.07,295.98 L209.59,295.59 L212.14,295.25 L214.71,294.96 L217.30,294.72 L219.91,294.54 L222.55,294.41 L225.23,294.33 L228.00,294.30 L230.77,294.33 L233.45,294.41 L236.09,294.54 L238.70,294.72 L241.29,294.96 L243.86,295.25 L246.41,295.59 L248.93,295.98 L251.44,296.42 L253.92,296.92 L256.38,297.46 L258.81,298.06 L261.22,298.71 L263.61,299.40 L265.96,300.15 L268.29,300.95 L270.58,301.79 L272.85,302.68 L275.08,303.62 L277.28,304.60 L279.44,305.64 L281.56,306.71 L283.65,307.83 L285.70,309.00 L287.71,310.21 L289.67,311.46 L291.60,312.75 L293.48,314.09 L295.31,315.46 L297.10,316.88 L298.84,318.33 L300.53,319.82 L302.18,321.35 L303.77,322.91 L305.31,324.51 L306.80,326.14 L308.24,327.80 L309.62,329.50 L310.94,331.22 L312.21,332.98 L313.43,334.76 L314.58,336.58 L315.68,338.42 L316.72,340.28 L317.70,342.17 L318.62,344.08 L319.47,346.02 L320.27,347.97 L321.00,349.95 L321.68,351.95 L322.29,353.96 L322.83,356.00 L323.32,358.05 L323.74,360.12 L324.09,362.20 L324.38,364.31 L324.61,366.43 L324.77,368.57 L324.87,370.75 Z" fill="rgb(255,193,37)" fill-opacity="0.5"/>
<path d="M277.10,441.20 L277.07,443.45 L276.97,445.63 L276.81,447.78 L276.58,449.90 L276.29,452.01 L275.94,454.10 L275.52,456.17 L275.04,458.22 L274.49,460.26 L273.88,462.28 L273.21,464.28 L272.48,466.26 L271.68,468.22 L270.82,470.16 L269.90,472.07 L268.93,473.96 L267.89,475.83 L266.79,477.67 L265.64,479.48 L264.43,481.27 L263.16,483.03 L261.83,484.76 L260.45,486.46 L259.02,488.12 L257.53,489.75 L255.99,491.35 L254.40,492.92 L252.76,494.45 L251.07,495.94 L249.33,497.39 L247.54,498.81 L245.71,500.19 L243.83,501.52 L241.91,502.82 L239.95,504.07 L237.94,505.28 L235.89,506.45 L233.81,507.57 L231.69,508.65 L229.53,509.68 L227.33,510.67 L225.10,511.61 L222.84,512.50 L220.55,513.35 L218.22,514.14 L215.87,514.89 L213.49,515.59 L211.08,516.24 L208.65,516.83 L206.19,517.38 L203.71,517.88 L201.21,518.32 L198.69,518.71 L196.14,519.05 L193.58,519.34 L190.99,519.58 L188.38,519.76 L185.74,519.89 L183.07,519.97 L180.30,520.00 L177.53,519.97 L174.86,519.89 L172.22,519.76 L169.61,519.58 L167.02,519.34 L164.46,519.05 L161.91,518.71 L159.39,518.32 L156.89,517.88 L154.41,517.38 L151.95,516.83 L149.52,516.24 L147.11,515.59 L144.73,514.89 L142.38,514.14 L140.05,513.35 L137.76,512.50 L135.50,511.61 L133.27,510.67 L131.07,509.68 L128.91,508.65 L126.79,507.57 L124.71,506.45 L122.66,505.28 L120.65,504.07 L118.69,502.82 L116.77,501.52 L114.89,500.19 L113.06,498.81 L111.27,497.39 L109.53,495.94 L107.84,494.45 L106.20,492.92 L104.61,491.35 L103.07,489.75 L101.58,488.12 L100.15,486.46 L98.77,484.76 L97.44,483.03 L96.17,481.27 L94.96,479.48 L93.81,477.67 L92.71,475.83 L91.67,473.96 L90.70,472.07 L89.78,470.16 L88.92,468.22 L88.12,466.26 L87.39,464.28 L86.72,462.28 L86.11,460.26 L85.56,458.22 L85.08,456.17 L84.66,454.10 L84.31,452.01 L84.02,449.90 L83.79,447.78 L83.63,445.63 L83.53,443.45 L83.50,441.20 L83.53,438.95 L83.63,436.77 L83.79,434.62 L84.02,432.50 L84.31,430.39 L84.66,428.30 L85.08,426.23 L85.56,424.18 L86.11,422.14 L86.72,420.12 L87.39,418.12 L88.12,416.14 L88.92,414.18 L89.78,412.24 L90.70,410.33 L91.67,408.44 L92.71,406.57 L93.81,404.73 L94.96,402.92 L96.17,401.13 L97.44,399.37 L98.77,397.64 L100.15,395.94 L101.58,394.28 L103.07,392.65 L104.61,391.05 L106.20,389.48 L107.84,387.95 L109.53,386.46 L111.27,385.01 L113.06,383.59 L114.89,382.21 L116.77,380.88 L118.69,379.58 L120.65,378.33 L122.66,377.12 L124.71,375.95 L126.79,374.83 L128.91,373.75 L131.07,372.72 L133.27,371.73 L135.50,370.79 L137.76,369.90 L140.05,369.05 L142.38,368.26 L144.73,367.51 L147.11,366.81 L149.52,366.16 L151.95,365.57 L154.41,365.02 L156.89,364.52 L159.39,364.08 L161.91,363.69 L164.46,363.35 L167.02,363.06 L169.61,362.82 L172.22,362.64 L174.86,362.51 L177.53,362.43 L180.30,362.40 L183.07,362.43 L185.74,362.51 L188.38,362.64 L190.99,362.82 L193.58,363.06 L196.14,363.35 L198.69,363.69 L201.21,364.08 L203.71,364.52 L206.19,365.02 L208.65,365.57 L211.08,366.16 L213.49,366.81 L215.87,367.51 L218.22,368.26 L220.55,369.05 L222.84,369.90 L225.10,370.79 L227.33,371.73 L229.53,372.72 L231.69,373.75 L233.81,374.83 L235.89,375.95 L237.94,377.12 L239.95,378.33 L241.91,379.58 L243.83,380.88 L245.71,382.21 L247.54,383.59 L249.33,385.01 L251.07,386.46 L252.76,387.95 L254.40,389.48 L255.99,391.05 L257.53,392.65 L259.02,394.28 L260.45,395.94 L261.83,397.64 L263.16,399.37 L264.43,401.13 L265.64,402.92 L266.79,404.73 L267.89,406.57 L268.93,408.44 L269.90,410.33 L270.82,412.24 L271.68,414.18 L272.48,416.14 L273.21,418.12 L273.88,420.12 L274.49,422.14 L275.04,424.18 L275.52,426.23 L275.94,428.30 L276.29,430.39 L276.58,432.50 L276.81,434.62 L276.97,436.77 L277.07,438.95 Z" fill="rgb(205,105,201)" fill-opacity="0.5"/>
<path d="M229.50,373.20 L229.47,375.45 L229.37,377.63 L229.21,379.78 L228.98,381.90 L228.69,384.01 L228.33,386.10 L227.91,388.17 L227.43,390.22 L226.88,392.26 L226.27,394.28 L225.60,396.28 L224.86,398.26 L224.06,400.22 L223.20,402.16 L222.28,404.07 L221.30,405.96 L220.26,407.83 L219.16,409.67 L218.00,411.48 L216.79,413.27 L215.51,415.03 L214.19,416.76 L212.80,418.46 L211.36,420.12 L209.87,421.75 L208.33,423.35 L206.73,424.92 L205.08,426.45 L203.39,427.94 L201.64,429.39 L199.85,430.81 L198.01,432.19 L196.13,433.52 L194.20,434.82 L192.23,436.07 L190.22,437.28 L188.17,438.45 L186.07,439.57 L183.94,440.65 L181.78,441.68 L179.58,442.67 L177.34,443.61 L175.07,444.50 L172.77,445.35 L170.44,446.14 L168.08,446.89 L165.69,447.59 L163.28,448.24 L160.84,448.83 L158.37,449.38 L155.89,449.88 L153.38,450.32 L150.85,450.71 L148.29,451.05 L145.72,451.34 L143.12,451.58 L140.51,451.76 L137.86,451.89 L135.18,451.97 L132.40,452.00 L129.62,451.97 L126.94,451.89 L124.29,451.76 L121.68,451.58 L119.08,451.34 L116.51,451.05 L113.95,450.71 L111.42,450.32 L108.91,449.88 L106.43,449.38 L103.96,448.83 L101.52,448.24 L99.11,447.59 L96.72,446.89 L94.36,446.14 L92.03,445.35 L89.73,444.50 L87.46,443.61 L85.22,442.67 L83.02,441.68 L80.86,440.65 L78.73,439.57 L76.63,438.45 L74.58,437.28 L72.57,436.07 L70.60,434.82 L68.67,433.52 L66.79,432.19 L64.95,430.81 L63.16,429.39 L61.41,427.94 L59.72,426.45 L58.07,424.92 L56.47,423.35 L54.93,421.75 L53.44,420.12 L52.00,418.46 L50.61,416.76 L49.29,415.03 L48.01,413.27 L46.80,411.48 L45.64,409.67 L44.54,407.83 L43.50,405.96 L42.52,404.07 L41.60,402.16 L40.74,400.22 L39.94,398.26 L39.20,396.28 L38.53,394.28 L37.92,392.26 L37.37,390.22 L36.89,388.17 L36.47,386.10 L36.11,384.01 L35.82,381.90 L35.59,379.78 L35.43,377.63 L35.33,375.45 L35.30,373.20 L35.33,370.95 L35.43,368.77 L35.59,366.62 L35.82,364.50 L36.11,362.39 L36.47,360.30 L36.89,358.23 L37.37,356.18 L37.92,354.14 L38.53,352.12 L39.20,350.12 L39.94,348.14 L40.74,346.18 L41.60,344.24 L42.52,342.33 L43.50,340.44 L44.54,338.57 L45.64,336.73 L46.80,334.92 L48.01,333.13 L49.29,331.37 L50.61,329.64 L52.00,327.94 L53.44,326.28 L54.93,324.65 L56.47,323.05 L58.07,321.48 L59.72,319.95 L61.41,318.46 L63.16,317.01 L64.95,315.59 L66.79,314.21 L68.67,312.88 L70.60,311.58 L72.57,310.33 L74.58,309.12 L76.63,307.95 L78.73,306.83 L80.86,305.75 L83.02,304.72 L85.22,303.73 L87.46,302.79 L89.73,301.90 L92.03,301.05 L94.36,300.26 L96.72,299.51 L99.11,298.81 L101.52,298.16 L103.96,297.57 L106.43,297.02 L108.91,296.52 L111.42,296.08 L113.95,295.69 L116.51,295.35 L119.08,295.06 L121.68,294.82 L124.29,294.64 L126.94,294.51 L129.62,294.43 L132.40,294.40 L135.18,294.43 L137.86,294.51 L140.51,294.64 L143.12,294.82 L145.72,295.06 L148.29,295.35 L150.85,295.69 L153.38,296.08 L155.89,296.52 L158.37,297.02 L160.84,297.57 L163.28,298.16 L165.69,298.81 L168.08,299.51 L170.44,300.26 L172.77,301.05 L175.07,301.90 L177.34,302.79 L179.58,303.73 L181.78,304.72 L183.94,305.75 L186.07,306.83 L188.17,307.95 L190.22,309.12 L192.23,310.33 L194.20,311.58 L196.13,312.88 L198.01,314.21 L199.85,315.59 L201.64,317.01 L203.39,318.46 L205.08,319.95 L206.73,321.48 L208.33,323.05 L209.87,324.65 L211.36,326.28 L212.80,327.94 L214.19,329.64 L215.51,331.37 L216.79,333.13 L218.00,334.92 L219.16,336.73 L220.26,338.57 L221.30,340.44 L222.28,342.33 L223.20,344.24 L224.06,346.18 L224.86,348.14 L225.60,350.12 L226.27,352.12 L226.88,354.14 L227.43,356.18 L227.91,358.23 L228.33,360.30 L228.69,362.39 L228.98,364.50 L229.21,366.62 L229.37,368.77 L229.47,370.95 Z" fill="none" stroke="rgb(30,144,255)" stroke-opacity="0.58" stroke-width="1.5"/>
<path d="M324.90,373.00 L324.87,375.25 L324.77,377.43 L324.61,379.57 L324.38,381.69 L324.09,383.80 L323.74,385.88 L323.32,387.95 L322.83,390.00 L322.29,392.04 L321.68,394.05 L321.00,396.05 L320.27,398.03 L319.47,399.98 L318.62,401.92 L317.70,403.83 L316.72,405.72 L315.68,407.58 L314.58,409.42 L313.43,411.24 L312.21,413.02 L310.94,414.78 L309.62,416.50 L308.24,418.20 L306.80,419.86 L305.31,421.49 L303.77,423.09 L302.18,424.65 L300.53,426.18 L298.84,427.67 L297.10,429.12 L295.31,430.54 L293.48,431.91 L291.60,433.25 L289.67,434.54 L287.71,435.79 L285.70,437.00 L283.65,438.17 L281.56,439.29 L279.44,440.36 L277.28,441.40 L275.08,442.38 L272.85,443.32 L270.58,444.21 L268.29,445.05 L265.96,445.85 L263.61,446.60 L261.22,447.29 L258.81,447.94 L256.38,448.54 L253.92,449.08 L251.44,449.58 L248.93,450.02 L246.41,450.41 L243.86,450.75 L241.29,451.04 L238.70,451.28 L236.09,451.46 L233.45,451.59 L230.77,451.67 L228.00,451.70 L225.23,451.67 L222.55,451.59 L219.91,451.46 L217.30,451.28 L214.71,451.04 L212.14,450.75 L209.59,450.41 L207.07,450.02 L204.56,449.58 L202.08,449.08 L199.62,448.54 L197.19,447.94 L194.78,447.29 L192.39,446.60 L190.04,445.85 L187.71,445.05 L185.42,444.21 L183.15,443.32 L180.92,442.38 L178.72,441.40 L176.56,440.36 L174.44,439.29 L172.35,438.17 L170.30,437.00 L168.29,435.79 L166.33,434.54 L164.40,433.25 L162.52,431.91 L160.69,430.54 L158.90,429.12 L157.16,427.67 L155.47,426.18 L153.82,424.65 L152.23,423.09 L150.69,421.49 L149.20,419.86 L147.76,418.20 L146.38,416.50 L145.06,414.78 L143.79,413.02 L142.57,411.24 L141.42,409.42 L140.32,407.58 L139.28,405.72 L138.30,403.83 L137.38,401.92 L136.53,399.98 L135.73,398.03 L135.00,396.05 L134.32,394.05 L133.71,392.04 L133.17,390.00 L132.68,387.95 L132.26,385.88 L131.91,383.80 L131.62,381.69 L131.39,379.57 L131.23,377.43 L131.13,375.25 L131.10,373.00 L131.13,370.75 L131.23,368.57 L131.39,366.43 L131.62,364.31 L131.91,362.20 L132.26,360.12 L132.68,358.05 L133.17,356.00 L133.71,353.96 L134.32,351.95 L135.00,349.95 L135.73,347.97 L136.53,346.02 L137.38,344.08 L138.30,342.17 L139.28,340.28 L140.32,338.42 L141.42,336.58 L142.57,334.76 L143.79,332.98 L145.06,331.22 L146.38,329.50 L147.76,327.80 L149.20,326.14 L150.69,324.51 L152.23,322.91 L153.82,321.35 L155.47,319.82 L157.16,318.33 L158.90,316.88 L160.69,315.46 L162.52,314.09 L164.40,312.75 L166.33,311.46 L168.29,310.21 L170.30,309.00 L172.35,307.83 L174.44,306.71 L176.56,305.64 L178.72,304.60 L180.92,303.62 L183.15,302.68 L185.42,301.79 L187.71,300.95 L190.04,300.15 L192.39,299.40 L194.78,298.71 L197.19,298.06 L199.62,297.46 L202.08,296.92 L204.56,296.42 L207.07,295.98 L209.59,295.59 L212.14,295.25 L214.71,294.96 L217.30,294.72 L219.91,294.54 L222.55,294.41 L225.23,294.33 L228.00,294.30 L230.77,294.33 L233.45,294.41 L236.09,294.54 L238.70,294.72 L241.29,294.96 L243.86,295.25 L246.41,295.59 L248.93,295.98 L251.44,296.42 L253.92,296.92 L256.38,297.46 L258.81,298.06 L261.22,298.71 L263.61,299.40 L265.96,300.15 L268.29,300.95 L270.58,301.79 L272.85,302.68 L275.08,303.62 L277.28,304.60 L279.44,305.64 L281.56,306.71 L283.65,307.83 L285.70,309.00 L287.71,310.21 L289.67,311.46 L291.60,312.75 L293.48,314.09 L295.31,315.46 L297.10,316.88 L298.84,318.33 L300.53,319.82 L302.18,321.35 L303.77,322.91 L305.31,324.51 L306.80,326.14 L308.24,327.80 L309.62,329.50 L310.94,331.22 L312.21,332.98 L313.43,334.76 L314.58,336.58 L315.68,338.42 L316.72,340.28 L317.70,342.17 L318.62,344.08 L319.47,346.02 L320.27,347.97 L321.00,349.95 L321.68,351.95 L322.29,353.96 L322.83,356.00 L323.32,358.05 L323.74,360.12 L324.09,362.20 L324.38,364.31 L324.61,366.43 L324.77,368.57 L324.87,370.75 Z" fill="none" stroke="rgb(255,193,37)" stroke-opacity="0.58" stroke-width="1.5"/>
<path d="M277.10,441.20 L277.07,443.45 L276.97,445.63 L276.81,447.78 L276.58,449.90 L276.29,452.01 L275.94,454.10 L275.52,456.17 L275.04,458.22 L274.49,460.26 L273.88,462.28 L273.21,464.28 L272.48,466.26 L271.68,468.22 L270.82,470.16 L269.90,472.07 L268.93,473.96 L267.89,475.83 L266.79,477.67 L265.64,479.48 L264.43,481.27 L263.16,483.03 L261.83,484.76 L260.45,486.46 L259.02,488.12 L257.53,489.75 L255.99,491.35 L254.40,492.92 L252.76,494.45 L251.07,495.94 L249.33,497.39 L247.54,498.81 L245.71,500.19 L243.83,501.52 L241.91,502.82 L239.95,504.07 L237.94,505.28 L235.89,506.45 L233.81,507.57 L231.69,508.65 L229.53,509.68 L227.33,510.67 L225.10,511.61 L222.84,512.50 L220.55,513.35 L218.22,514.14 L215.87,514.89 L213.49,515.59 L211.08,516.24 L208.65,516.83 L206.19,517.38 L203.71,517.88 L201.21,518.32 L198.69,518.71 L196.14,519.05 L193.58,519.34 L190.99,519.58 L188.38,519.76 L185.74,519.89 L183.07,519.97 L180.30,520.00 L177.53,519.97 L174.86,519.89 L172.22,519.76 L169.61,519.58 L167.02,519.34 L164.46,519.05 L161.91,518.71 L159.39,518.32 L156.89,517.88 L154.41,517.38 L151.95,516.83 L149.52,516.24 L147.11,515.59 L144.73,514.89 L142.38,514.14 L140.05,513.35 L137.76,512.50 L135.50,511.61 L133.27,510.67 L131.07,509.68 L128.91,508.65 L126.79,507.57 L124.71,506.45 L122.66,505.28 L120.65,504.07 L118.69,502.82 L116.77,501.52 L114.89,500.19 L113.06,498.81 L111.27,497.39 L109.53,495.94 L107.84,494.45 L106.20,492.92 L104.61,491.35 L103.07,489.75 L101.58,488.12 L100.15,486.46 L98.77,484.76 L97.44,483.03 L96.17,481.27 L94.96,479.48 L93.81,477.67 L92.71,475.83 L91.67,473.96 L90.70,472.07 L89.78,470.16 L88.92,468.22 L88.12,466.26 L87.39,464.28 L86.72,462.28 L86.11,460.26 L85.56,458.22 L85.08,456.17 L84.66,454.10 L84.31,452.01 L84.02,449.90 L83.79,447.78 L83.63,445.63 L83.53,443.45 L83.50,441.20 L83.53,438.95 L83.63,436.77 L83.79,434.62 L84.02,432.50 L84.31,430.39 L84.66,428.30 L85.08,426.23 L85.56,424.18 L86.11,422.14 L86.72,420.12 L87.39,418.12 L88.12,416.14 L88.92,414.18 L89.78,412.24 L90.70,410.33 L91.67,408.44 L92.71,406.57 L93.81,404.73 L94.96,402.92 L96.17,401.13 L97.44,399.37 L98.77,397.64 L100.15,395.94 L101.58,394.28 L103.07,392.65 L104.61,391.05 L106.20,389.48 L107.84,387.95 L109.53,386.46 L111.27,385.01 L113.06,383.59 L114.89,382.21 L116.77,380.88 L118.69,379.58 L120.65,378.33 L122.66,377.12 L124.71,375.95 L126.79,374.83 L128.91,373.75 L131.07,372.72 L133.27,371.73 L135.50,370.79 L137.76,369.90 L140.05,369.05 L142.38,368.26 L144.73,367.51 L147.11,366.81 L149.52,366.16 L151.95,365.57 L154.41,365.02 L156.89,364.52 L159.39,364.08 L161.91,363.69 L164.46,363.35 L167.02,363.06 L169.61,362.82 L172.22,362.64 L174.86,362.51 L177.53,362.43 L180.30,362.40 L183.07,362.43 L185.74,362.51 L188.38,362.64 L190.99,362.82 L193.58,363.06 L196.14,363.35 L198.69,363.69 L201.21,364.08 L203.71,364.52 L206.19,365.02 L208.65,365.57 L211.08,366.16 L213.49,366.81 L215.87,367.51 L218.22,368.26 L220.55,369.05 L222.84,369.90 L225.10,370.79 L227.33,371.73 L229.53,372.72 L231.69,373.75 L233.81,374.83 L235.89,375.95 L237.94,377.12 L239.95,378.33 L241.91,379.58 L243.83,380.88 L245.71,382.21 L247.54,383.59 L249.33,385.01 L251.07,386.46 L252.76,387.95 L254.40,389.48 L255.99,391.05 L257.53,392.65 L259.02,394.28 L260.45,395.94 L261.83,397.64 L263.16,399.37 L264.43,401.13 L265.64,402.92 L266.79,404.73 L267.89,406.57 L268.93,408.44 L269.90,410.33 L270.82,412.24 L271.68,414.18 L272.48,416.14 L273.21,418.12 L273.88,420.12 L274.49,422.14 L275.04,424.18 L275.52,426.23 L275.94,428.30 L276.29,430.39 L276.58,432.50 L276.81,434.62 L276.97,436.77 L277.07,438.95 Z" fill="none" stroke="rgb(205,105,201)" stroke-opacity="0.58" stroke-width="1.5"/>
<text transform="translate(57.50,309.40) scale(1.100,1)" font-family="Liberation Serif" font-size="13.9" font-weight="bold" text-anchor="middle" fill="rgb(30,144,255)">ZC</text>
<text transform="translate(302.10,308.80) scale(1.100,1)" font-family="Liberation Serif" font-size="13.9" font-weight="bold" text-anchor="middle" fill="rgb(255,193,37)">ZCK</text>
<text transform="translate(180.00,536.70) scale(1.100,1)" font-family="Liberation Serif" font-size="13.9" font-weight="bold" text-anchor="middle" fill="rgb(205,105,201)">ZCS</text>
<text transform="translate(90.30,359.00) scale(1.170,1)" font-family="Liberation Serif" font-size="16.4" text-anchor="middle" fill="#111" stroke="#111" stroke-width="0.35">164</text>
<text transform="translate(180.60,339.00) scale(1.170,1)" font-family="Liberation Serif" font-size="16.4" text-anchor="middle" fill="#111" stroke="#111" stroke-width="0.35">64</text>
<text transform="translate(271.90,358.80) scale(1.170,1)" font-family="Liberation Serif" font-size="16.4" text-anchor="middle" fill="#111" stroke="#111" stroke-width="0.35">12</text>
<text transform="translate(180.80,402.20) scale(1.170,1)" font-family="Liberation Serif" font-size="16.4" text-anchor="middle" fill="#111" stroke="#111" stroke-width="0.35">535</text>
<text transform="translate(113.05,432.80) scale(1.170,1)" font-family="Liberation Serif" font-size="16.4" text-anchor="middle" fill="#111" stroke="#111" stroke-width="0.35">43</text>
<text transform="translate(247.10,432.80) scale(1.170,1)" font-family="Liberation Serif" font-size="16.4" text-anchor="middle" fill="#111" stroke="#111" stroke-width="0.35">24</text>
<text transform="translate(181.20,487.50) scale(1.170,1)" font-family="Liberation Serif" font-size="16.4" text-anchor="middle" fill="#111" stroke="#111" stroke-width="0.35">8</text>
<path d="M575.80,386.70 L575.76,388.83 L575.66,390.90 L575.48,392.93 L575.23,394.94 L574.92,396.93 L574.53,398.91 L574.07,400.87 L573.54,402.82 L572.95,404.74 L572.28,406.66 L571.55,408.55 L570.75,410.42 L569.88,412.28 L568.94,414.11 L567.94,415.92 L566.87,417.72 L565.73,419.48 L564.53,421.23 L563.27,422.94 L561.95,424.64 L560.56,426.30 L559.11,427.94 L557.60,429.54 L556.04,431.12 L554.41,432.67 L552.73,434.18 L550.99,435.66 L549.20,437.11 L547.35,438.52 L545.45,439.90 L543.49,441.24 L541.49,442.54 L539.44,443.81 L537.34,445.03 L535.19,446.22 L533.00,447.37 L530.76,448.47 L528.48,449.53 L526.16,450.55 L523.80,451.53 L521.40,452.47 L518.97,453.36 L516.49,454.20 L513.99,455.00 L511.45,455.75 L508.88,456.46 L506.27,457.12 L503.64,457.74 L500.99,458.30 L498.30,458.82 L495.59,459.29 L492.86,459.71 L490.10,460.08 L487.32,460.40 L484.51,460.68 L481.69,460.90 L478.83,461.08 L475.95,461.20 L473.03,461.28 L470.00,461.30 L466.97,461.28 L464.05,461.20 L461.17,461.08 L458.31,460.90 L455.49,460.68 L452.68,460.40 L449.90,460.08 L447.14,459.71 L444.41,459.29 L441.70,458.82 L439.01,458.30 L436.36,457.74 L433.73,457.12 L431.12,456.46 L428.55,455.75 L426.01,455.00 L423.51,454.20 L421.03,453.36 L418.60,452.47 L416.20,451.53 L413.84,450.55 L411.52,449.53 L409.24,448.47 L407.00,447.37 L404.81,446.22 L402.66,445.03 L400.56,443.81 L398.51,442.54 L396.51,441.24 L394.55,439.90 L392.65,438.52 L390.80,437.11 L389.01,435.66 L387.27,434.18 L385.59,432.67 L383.96,431.12 L382.40,429.54 L380.89,427.94 L379.44,426.30 L378.05,424.64 L376.73,422.94 L375.47,421.23 L374.27,419.48 L373.13,417.72 L372.06,415.92 L371.06,414.11 L370.12,412.28 L369.25,410.42 L368.45,408.55 L367.72,406.66 L367.05,404.74 L366.46,402.82 L365.93,400.87 L365.47,398.91 L365.08,396.93 L364.77,394.94 L364.52,392.93 L364.34,390.90 L364.24,388.83 L364.20,386.70 L364.24,384.57 L364.34,382.50 L364.52,380.47 L364.77,378.46 L365.08,376.47 L365.47,374.49 L365.93,372.53 L366.46,370.58 L367.05,368.66 L367.72,366.74 L368.45,364.85 L369.25,362.98 L370.12,361.12 L371.06,359.29 L372.06,357.48 L373.13,355.68 L374.27,353.92 L375.47,352.17 L376.73,350.46 L378.05,348.76 L379.44,347.10 L380.89,345.46 L382.40,343.86 L383.96,342.28 L385.59,340.73 L387.27,339.22 L389.01,337.74 L390.80,336.29 L392.65,334.88 L394.55,333.50 L396.51,332.16 L398.51,330.86 L400.56,329.59 L402.66,328.37 L404.81,327.18 L407.00,326.03 L409.24,324.93 L411.52,323.87 L413.84,322.85 L416.20,321.87 L418.60,320.93 L421.03,320.04 L423.51,319.20 L426.01,318.40 L428.55,317.65 L431.12,316.94 L433.73,316.28 L436.36,315.66 L439.01,315.10 L441.70,314.58 L444.41,314.11 L447.14,313.69 L449.90,313.32 L452.68,313.00 L455.49,312.72 L458.31,312.50 L461.17,312.32 L464.05,312.20 L466.97,312.12 L470.00,312.10 L473.03,312.12 L475.95,312.20 L478.83,312.32 L481.69,312.50 L484.51,312.72 L487.32,313.00 L490.10,313.32 L492.86,313.69 L495.59,314.11 L498.30,314.58 L500.99,315.10 L503.64,315.66 L506.27,316.28 L508.88,316.94 L511.45,317.65 L513.99,318.40 L516.49,319.20 L518.97,320.04 L521.40,320.93 L523.80,321.87 L526.16,322.85 L528.48,323.87 L530.76,324.93 L533.00,326.03 L535.19,327.18 L537.34,328.37 L539.44,329.59 L541.49,330.86 L543.49,332.16 L545.45,333.50 L547.35,334.88 L549.20,336.29 L550.99,337.74 L552.73,339.22 L554.41,340.73 L556.04,342.28 L557.60,343.86 L559.11,345.46 L560.56,347.10 L561.95,348.76 L563.27,350.46 L564.53,352.17 L565.73,353.92 L566.87,355.68 L567.94,357.48 L568.94,359.29 L569.88,361.12 L570.75,362.98 L571.55,364.85 L572.28,366.74 L572.95,368.66 L573.54,370.58 L574.07,372.53 L574.53,374.49 L574.92,376.47 L575.23,378.46 L575.48,380.47 L575.66,382.50 L575.76,384.57 Z" fill="rgb(30,144,255)" fill-opacity="0.5"/>
<path d="M680.00,386.75 L679.96,388.88 L679.86,390.95 L679.68,392.98 L679.43,394.99 L679.12,396.98 L678.73,398.96 L678.27,400.92 L677.74,402.87 L677.15,404.79 L676.48,406.71 L675.75,408.60 L674.95,410.47 L674.08,412.33 L673.14,414.16 L672.14,415.97 L671.07,417.77 L669.93,419.53 L668.73,421.28 L667.47,422.99 L666.15,424.69 L664.76,426.35 L663.31,427.99 L661.80,429.59 L660.24,431.17 L658.61,432.72 L656.93,434.23 L655.19,435.71 L653.40,437.16 L651.55,438.57 L649.65,439.95 L647.69,441.29 L645.69,442.59 L643.64,443.86 L641.54,445.08 L639.39,446.27 L637.20,447.42 L634.96,448.52 L632.68,449.58 L630.36,450.60 L628.00,451.58 L625.60,452.52 L623.17,453.41 L620.69,454.25 L618.19,455.05 L615.65,455.80 L613.08,456.51 L610.47,457.17 L607.84,457.79 L605.19,458.35 L602.50,458.87 L599.79,459.34 L597.06,459.76 L594.30,460.13 L591.52,460.45 L588.71,460.73 L585.89,460.95 L583.03,461.13 L580.15,461.25 L577.23,461.33 L574.20,461.35 L571.17,461.33 L568.25,461.25 L565.37,461.13 L562.51,460.95 L559.69,460.73 L556.88,460.45 L554.10,460.13 L551.34,459.76 L548.61,459.34 L545.90,458.87 L543.21,458.35 L540.56,457.79 L537.93,457.17 L535.32,456.51 L532.75,455.80 L530.21,455.05 L527.71,454.25 L525.23,453.41 L522.80,452.52 L520.40,451.58 L518.04,450.60 L515.72,449.58 L513.44,448.52 L511.20,447.42 L509.01,446.27 L506.86,445.08 L504.76,443.86 L502.71,442.59 L500.71,441.29 L498.75,439.95 L496.85,438.57 L495.00,437.16 L493.21,435.71 L491.47,434.23 L489.79,432.72 L488.16,431.17 L486.60,429.59 L485.09,427.99 L483.64,426.35 L482.25,424.69 L480.93,422.99 L479.67,421.28 L478.47,419.53 L477.33,417.77 L476.26,415.97 L475.26,414.16 L474.32,412.33 L473.45,410.47 L472.65,408.60 L471.92,406.71 L471.25,404.79 L470.66,402.87 L470.13,400.92 L469.67,398.96 L469.28,396.98 L468.97,394.99 L468.72,392.98 L468.54,390.95 L468.44,388.88 L468.40,386.75 L468.44,384.62 L468.54,382.55 L468.72,380.52 L468.97,378.51 L469.28,376.52 L469.67,374.54 L470.13,372.58 L470.66,370.63 L471.25,368.71 L471.92,366.79 L472.65,364.90 L473.45,363.03 L474.32,361.17 L475.26,359.34 L476.26,357.53 L477.33,355.73 L478.47,353.97 L479.67,352.22 L480.93,350.51 L482.25,348.81 L483.64,347.15 L485.09,345.51 L486.60,343.91 L488.16,342.33 L489.79,340.78 L491.47,339.27 L493.21,337.79 L495.00,336.34 L496.85,334.93 L498.75,333.55 L500.71,332.21 L502.71,330.91 L504.76,329.64 L506.86,328.42 L509.01,327.23 L511.20,326.08 L513.44,324.98 L515.72,323.92 L518.04,322.90 L520.40,321.92 L522.80,320.98 L525.23,320.09 L527.71,319.25 L530.21,318.45 L532.75,317.70 L535.32,316.99 L537.93,316.33 L540.56,315.71 L543.21,315.15 L545.90,314.63 L548.61,314.16 L551.34,313.74 L554.10,313.37 L556.88,313.05 L559.69,312.77 L562.51,312.55 L565.37,312.37 L568.25,312.25 L571.17,312.17 L574.20,312.15 L577.23,312.17 L580.15,312.25 L583.03,312.37 L585.89,312.55 L588.71,312.77 L591.52,313.05 L594.30,313.37 L597.06,313.74 L599.79,314.16 L602.50,314.63 L605.19,315.15 L607.84,315.71 L610.47,316.33 L613.08,316.99 L615.65,317.70 L618.19,318.45 L620.69,319.25 L623.17,320.09 L625.60,320.98 L628.00,321.92 L630.36,322.90 L632.68,323.92 L634.96,324.98 L637.20,326.08 L639.39,327.23 L641.54,328.42 L643.64,329.64 L645.69,330.91 L647.69,332.21 L649.65,333.55 L651.55,334.93 L653.40,336.34 L655.19,337.79 L656.93,339.27 L658.61,340.78 L660.24,342.33 L661.80,343.91 L663.31,345.51 L664.76,347.15 L666.15,348.81 L667.47,350.51 L668.73,352.22 L669.93,353.97 L671.07,355.73 L672.14,357.53 L673.14,359.34 L674.08,361.17 L674.95,363.03 L675.75,364.90 L676.48,366.79 L677.15,368.71 L677.74,370.63 L678.27,372.58 L678.73,374.54 L679.12,376.52 L679.43,378.51 L679.68,380.52 L679.86,382.55 L679.96,384.62 Z" fill="rgb(255,193,37)" fill-opacity="0.5"/>
<path d="M628.10,450.70 L628.06,452.83 L627.96,454.88 L627.78,456.91 L627.53,458.92 L627.22,460.91 L626.83,462.88 L626.37,464.83 L625.84,466.77 L625.25,468.70 L624.58,470.60 L623.85,472.49 L623.05,474.36 L622.18,476.21 L621.24,478.04 L620.24,479.85 L619.17,481.63 L618.03,483.40 L616.83,485.13 L615.57,486.85 L614.25,488.53 L612.86,490.19 L611.41,491.83 L609.90,493.43 L608.34,495.00 L606.71,496.54 L605.03,498.05 L603.29,499.53 L601.50,500.97 L599.65,502.38 L597.75,503.76 L595.79,505.09 L593.79,506.39 L591.74,507.65 L589.64,508.88 L587.49,510.06 L585.30,511.20 L583.06,512.30 L580.78,513.37 L578.46,514.38 L576.10,515.36 L573.70,516.29 L571.27,517.18 L568.79,518.02 L566.29,518.82 L563.75,519.57 L561.18,520.27 L558.57,520.93 L555.94,521.55 L553.29,522.11 L550.60,522.63 L547.89,523.09 L545.16,523.51 L542.40,523.88 L539.62,524.21 L536.81,524.48 L533.99,524.70 L531.13,524.88 L528.25,525.00 L525.33,525.08 L522.30,525.10 L519.27,525.08 L516.35,525.00 L513.47,524.88 L510.61,524.70 L507.79,524.48 L504.98,524.21 L502.20,523.88 L499.44,523.51 L496.71,523.09 L494.00,522.63 L491.31,522.11 L488.66,521.55 L486.03,520.93 L483.42,520.27 L480.85,519.57 L478.31,518.82 L475.81,518.02 L473.33,517.18 L470.90,516.29 L468.50,515.36 L466.14,514.38 L463.82,513.37 L461.54,512.30 L459.30,511.20 L457.11,510.06 L454.96,508.88 L452.86,507.65 L450.81,506.39 L448.81,505.09 L446.85,503.76 L444.95,502.38 L443.10,500.97 L441.31,499.53 L439.57,498.05 L437.89,496.54 L436.26,495.00 L434.70,493.43 L433.19,491.83 L431.74,490.19 L430.35,488.53 L429.03,486.85 L427.77,485.13 L426.57,483.40 L425.43,481.63 L424.36,479.85 L423.36,478.04 L422.42,476.21 L421.55,474.36 L420.75,472.49 L420.02,470.60 L419.35,468.70 L418.76,466.77 L418.23,464.83 L417.77,462.88 L417.38,460.91 L417.07,458.92 L416.82,456.91 L416.64,454.88 L416.54,452.83 L416.50,450.70 L416.54,448.57 L416.64,446.52 L416.82,444.49 L417.07,442.48 L417.38,440.49 L417.77,438.52 L418.23,436.57 L418.76,434.63 L419.35,432.70 L420.02,430.80 L420.75,428.91 L421.55,427.04 L422.42,425.19 L423.36,423.36 L424.36,421.55 L425.43,419.77 L426.57,418.00 L427.77,416.27 L429.03,414.55 L430.35,412.87 L431.74,411.21 L433.19,409.57 L434.70,407.97 L436.26,406.40 L437.89,404.86 L439.57,403.35 L441.31,401.87 L443.10,400.43 L444.95,399.02 L446.85,397.64 L448.81,396.31 L450.81,395.01 L452.86,393.75 L454.96,392.52 L457.11,391.34 L459.30,390.20 L461.54,389.10 L463.82,388.03 L466.14,387.02 L468.50,386.04 L470.90,385.11 L473.33,384.22 L475.81,383.38 L478.31,382.58 L480.85,381.83 L483.42,381.13 L486.03,380.47 L488.66,379.85 L491.31,379.29 L494.00,378.77 L496.71,378.31 L499.44,377.89 L502.20,377.52 L504.98,377.19 L507.79,376.92 L510.61,376.70 L513.47,376.52 L516.35,376.40 L519.27,376.32 L522.30,376.30 L525.33,376.32 L528.25,376.40 L531.13,376.52 L533.99,376.70 L536.81,376.92 L539.62,377.19 L542.40,377.52 L545.16,377.89 L547.89,378.31 L550.60,378.77 L553.29,379.29 L555.94,379.85 L558.57,380.47 L561.18,381.13 L563.75,381.83 L566.29,382.58 L568.79,383.38 L571.27,384.22 L573.70,385.11 L576.10,386.04 L578.46,387.02 L580.78,388.03 L583.06,389.10 L585.30,390.20 L587.49,391.34 L589.64,392.52 L591.74,393.75 L593.79,395.01 L595.79,396.31 L597.75,397.64 L599.65,399.02 L601.50,400.43 L603.29,401.87 L605.03,403.35 L606.71,404.86 L608.34,406.40 L609.90,407.97 L611.41,409.57 L612.86,411.21 L614.25,412.87 L615.57,414.55 L616.83,416.27 L618.03,418.00 L619.17,419.77 L620.24,421.55 L621.24,423.36 L622.18,425.19 L623.05,427.04 L623.85,428.91 L624.58,430.80 L625.25,432.70 L625.84,434.63 L626.37,436.57 L626.83,438.52 L627.22,440.49 L627.53,442.48 L627.78,444.49 L627.96,446.52 L628.06,448.57 Z" fill="rgb(205,105,201)" fill-opacity="0.5"/>
<path d="M575.80,386.70 L575.76,388.83 L575.66,390.90 L575.48,392.93 L575.23,394.94 L574.92,396.93 L574.53,398.91 L574.07,400.87 L573.54,402.82 L572.95,404.74 L572.28,406.66 L571.55,408.55 L570.75,410.42 L569.88,412.28 L568.94,414.11 L567.94,415.92 L566.87,417.72 L565.73,419.48 L564.53,421.23 L563.27,422.94 L561.95,424.64 L560.56,426.30 L559.11,427.94 L557.60,429.54 L556.04,431.12 L554.41,432.67 L552.73,434.18 L550.99,435.66 L549.20,437.11 L547.35,438.52 L545.45,439.90 L543.49,441.24 L541.49,442.54 L539.44,443.81 L537.34,445.03 L535.19,446.22 L533.00,447.37 L530.76,448.47 L528.48,449.53 L526.16,450.55 L523.80,451.53 L521.40,452.47 L518.97,453.36 L516.49,454.20 L513.99,455.00 L511.45,455.75 L508.88,456.46 L506.27,457.12 L503.64,457.74 L500.99,458.30 L498.30,458.82 L495.59,459.29 L492.86,459.71 L490.10,460.08 L487.32,460.40 L484.51,460.68 L481.69,460.90 L478.83,461.08 L475.95,461.20 L473.03,461.28 L470.00,461.30 L466.97,461.28 L464.05,461.20 L461.17,461.08 L458.31,460.90 L455.49,460.68 L452.68,460.40 L449.90,460.08 L447.14,459.71 L444.41,459.29 L441.70,458.82 L439.01,458.30 L436.36,457.74 L433.73,457.12 L431.12,456.46 L428.55,455.75 L426.01,455.00 L423.51,454.20 L421.03,453.36 L418.60,452.47 L416.20,451.53 L413.84,450.55 L411.52,449.53 L409.24,448.47 L407.00,447.37 L404.81,446.22 L402.66,445.03 L400.56,443.81 L398.51,442.54 L396.51,441.24 L394.55,439.90 L392.65,438.52 L390.80,437.11 L389.01,435.66 L387.27,434.18 L385.59,432.67 L383.96,431.12 L382.40,429.54 L380.89,427.94 L379.44,426.30 L378.05,424.64 L376.73,422.94 L375.47,421.23 L374.27,419.48 L373.13,417.72 L372.06,415.92 L371.06,414.11 L370.12,412.28 L369.25,410.42 L368.45,408.55 L367.72,406.66 L367.05,404.74 L366.46,402.82 L365.93,400.87 L365.47,398.91 L365.08,396.93 L364.77,394.94 L364.52,392.93 L364.34,390.90 L364.24,388.83 L364.20,386.70 L364.24,384.57 L364.34,382.50 L364.52,380.47 L364.77,378.46 L365.08,376.47 L365.47,374.49 L365.93,372.53 L366.46,370.58 L367.05,368.66 L367.72,366.74 L368.45,364.85 L369.25,362.98 L370.12,361.12 L371.06,359.29 L372.06,357.48 L373.13,355.68 L374.27,353.92 L375.47,352.17 L376.73,350.46 L378.05,348.76 L379.44,347.10 L380.89,345.46 L382.40,343.86 L383.96,342.28 L385.59,340.73 L387.27,339.22 L389.01,337.74 L390.80,336.29 L392.65,334.88 L394.55,333.50 L396.51,332.16 L398.51,330.86 L400.56,329.59 L402.66,328.37 L404.81,327.18 L407.00,326.03 L409.24,324.93 L411.52,323.87 L413.84,322.85 L416.20,321.87 L418.60,320.93 L421.03,320.04 L423.51,319.20 L426.01,318.40 L428.55,317.65 L431.12,316.94 L433.73,316.28 L436.36,315.66 L439.01,315.10 L441.70,314.58 L444.41,314.11 L447.14,313.69 L449.90,313.32 L452.68,313.00 L455.49,312.72 L458.31,312.50 L461.17,312.32 L464.05,312.20 L466.97,312.12 L470.00,312.10 L473.03,312.12 L475.95,312.20 L478.83,312.32 L481.69,312.50 L484.51,312.72 L487.32,313.00 L490.10,313.32 L492.86,313.69 L495.59,314.11 L498.30,314.58 L500.99,315.10 L503.64,315.66 L506.27,316.28 L508.88,316.94 L511.45,317.65 L513.99,318.40 L516.49,319.20 L518.97,320.04 L521.40,320.93 L523.80,321.87 L526.16,322.85 L528.48,323.87 L530.76,324.93 L533.00,326.03 L535.19,327.18 L537.34,328.37 L539.44,329.59 L541.49,330.86 L543.49,332.16 L545.45,333.50 L547.35,334.88 L549.20,336.29 L550.99,337.74 L552.73,339.22 L554.41,340.73 L556.04,342.28 L557.60,343.86 L559.11,345.46 L560.56,347.10 L561.95,348.76 L563.27,350.46 L564.53,352.17 L565.73,353.92 L566.87,355.68 L567.94,357.48 L568.94,359.29 L569.88,361.12 L570.75,362.98 L571.55,364.85 L572.28,366.74 L572.95,368.66 L573.54,370.58 L574.07,372.53 L574.53,374.49 L574.92,376.47 L575.23,378.46 L575.48,380.47 L575.66,382.50 L575.76,384.57 Z" fill="none" stroke="rgb(30,144,255)" stroke-opacity="0.58" stroke-width="1.5"/>
<path d="M680.00,386.75 L679.96,388.88 L679.86,390.95 L679.68,392.98 L679.43,394.99 L679.12,396.98 L678.73,398.96 L678.27,400.92 L677.74,402.87 L677.15,404.79 L676.48,406.71 L675.75,408.60 L674.95,410.47 L674.08,412.33 L673.14,414.16 L672.14,415.97 L671.07,417.77 L669.93,419.53 L668.73,421.28 L667.47,422.99 L666.15,424.69 L664.76,426.35 L663.31,427.99 L661.80,429.59 L660.24,431.17 L658.61,432.72 L656.93,434.23 L655.19,435.71 L653.40,437.16 L651.55,438.57 L649.65,439.95 L647.69,441.29 L645.69,442.59 L643.64,443.86 L641.54,445.08 L639.39,446.27 L637.20,447.42 L634.96,448.52 L632.68,449.58 L630.36,450.60 L628.00,451.58 L625.60,452.52 L623.17,453.41 L620.69,454.25 L618.19,455.05 L615.65,455.80 L613.08,456.51 L610.47,457.17 L607.84,457.79 L605.19,458.35 L602.50,458.87 L599.79,459.34 L597.06,459.76 L594.30,460.13 L591.52,460.45 L588.71,460.73 L585.89,460.95 L583.03,461.13 L580.15,461.25 L577.23,461.33 L574.20,461.35 L571.17,461.33 L568.25,461.25 L565.37,461.13 L562.51,460.95 L559.69,460.73 L556.88,460.45 L554.10,460.13 L551.34,459.76 L548.61,459.34 L545.90,458.87 L543.21,458.35 L540.56,457.79 L537.93,457.17 L535.32,456.51 L532.75,455.80 L530.21,455.05 L527.71,454.25 L525.23,453.41 L522.80,452.52 L520.40,451.58 L518.04,450.60 L515.72,449.58 L513.44,448.52 L511.20,447.42 L509.01,446.27 L506.86,445.08 L504.76,443.86 L502.71,442.59 L500.71,441.29 L498.75,439.95 L496.85,438.57 L495.00,437.16 L493.21,435.71 L491.47,434.23 L489.79,432.72 L488.16,431.17 L486.60,429.59 L485.09,427.99 L483.64,426.35 L482.25,424.69 L480.93,422.99 L479.67,421.28 L478.47,419.53 L477.33,417.77 L476.26,415.97 L475.26,414.16 L474.32,412.33 L473.45,410.47 L472.65,408.60 L471.92,406.71 L471.25,404.79 L470.66,402.87 L470.13,400.92 L469.67,398.96 L469.28,396.98 L468.97,394.99 L468.72,392.98 L468.54,390.95 L468.44,388.88 L468.40,386.75 L468.44,384.62 L468.54,382.55 L468.72,380.52 L468.97,378.51 L469.28,376.52 L469.67,374.54 L470.13,372.58 L470.66,370.63 L471.25,368.71 L471.92,366.79 L472.65,364.90 L473.45,363.03 L474.32,361.17 L475.26,359.34 L476.26,357.53 L477.33,355.73 L478.47,353.97 L479.67,352.22 L480.93,350.51 L482.25,348.81 L483.64,347.15 L485.09,345.51 L486.60,343.91 L488.16,342.33 L489.79,340.78 L491.47,339.27 L493.21,337.79 L495.00,336.34 L496.85,334.93 L498.75,333.55 L500.71,332.21 L502.71,330.91 L504.76,329.64 L506.86,328.42 L509.01,327.23 L511.20,326.08 L513.44,324.98 L515.72,323.92 L518.04,322.90 L520.40,321.92 L522.80,320.98 L525.23,320.09 L527.71,319.25 L530.21,318.45 L532.75,317.70 L535.32,316.99 L537.93,316.33 L540.56,315.71 L543.21,315.15 L545.90,314.63 L548.61,314.16 L551.34,313.74 L554.10,313.37 L556.88,313.05 L559.69,312.77 L562.51,312.55 L565.37,312.37 L568.25,312.25 L571.17,312.17 L574.20,312.15 L577.23,312.17 L580.15,312.25 L583.03,312.37 L585.89,312.55 L588.71,312.77 L591.52,313.05 L594.30,313.37 L597.06,313.74 L599.79,314.16 L602.50,314.63 L605.19,315.15 L607.84,315.71 L610.47,316.33 L613.08,316.99 L615.65,317.70 L618.19,318.45 L620.69,319.25 L623.17,320.09 L625.60,320.98 L628.00,321.92 L630.36,322.90 L632.68,323.92 L634.96,324.98 L637.20,326.08 L639.39,327.23 L641.54,328.42 L643.64,329.64 L645.69,330.91 L647.69,332.21 L649.65,333.55 L651.55,334.93 L653.40,336.34 L655.19,337.79 L656.93,339.27 L658.61,340.78 L660.24,342.33 L661.80,343.91 L663.31,345.51 L664.76,347.15 L666.15,348.81 L667.47,350.51 L668.73,352.22 L669.93,353.97 L671.07,355.73 L672.14,357.53 L673.14,359.34 L674.08,361.17 L674.95,363.03 L675.75,364.90 L676.48,366.79 L677.15,368.71 L677.74,370.63 L678.27,372.58 L678.73,374.54 L679.12,376.52 L679.43,378.51 L679.68,380.52 L679.86,382.55 L679.96,384.62 Z" fill="none" stroke="rgb(255,193,37)" stroke-opacity="0.58" stroke-width="1.5"/>
<path d="M628.10,450.70 L628.06,452.83 L627.96,454.88 L627.78,456.91 L627.53,458.92 L627.22,460.91 L626.83,462.88 L626.37,464.83 L625.84,466.77 L625.25,468.70 L624.58,470.60 L623.85,472.49 L623.05,474.36 L622.18,476.21 L621.24,478.04 L620.24,479.85 L619.17,481.63 L618.03,483.40 L616.83,485.13 L615.57,486.85 L614.25,488.53 L612.86,490.19 L611.41,491.83 L609.90,493.43 L608.34,495.00 L606.71,496.54 L605.03,498.05 L603.29,499.53 L601.50,500.97 L599.65,502.38 L597.75,503.76 L595.79,505.09 L593.79,506.39 L591.74,507.65 L589.64,508.88 L587.49,510.06 L585.30,511.20 L583.06,512.30 L580.78,513.37 L578.46,514.38 L576.10,515.36 L573.70,516.29 L571.27,517.18 L568.79,518.02 L566.29,518.82 L563.75,519.57 L561.18,520.27 L558.57,520.93 L555.94,521.55 L553.29,522.11 L550.60,522.63 L547.89,523.09 L545.16,523.51 L542.40,523.88 L539.62,524.21 L536.81,524.48 L533.99,524.70 L531.13,524.88 L528.25,525.00 L525.33,525.08 L522.30,525.10 L519.27,525.08 L516.35,525.00 L513.47,524.88 L510.61,524.70 L507.79,524.48 L504.98,524.21 L502.20,523.88 L499.44,523.51 L496.71,523.09 L494.00,522.63 L491.31,522.11 L488.66,521.55 L486.03,520.93 L483.42,520.27 L480.85,519.57 L478.31,518.82 L475.81,518.02 L473.33,517.18 L470.90,516.29 L468.50,515.36 L466.14,514.38 L463.82,513.37 L461.54,512.30 L459.30,511.20 L457.11,510.06 L454.96,508.88 L452.86,507.65 L450.81,506.39 L448.81,505.09 L446.85,503.76 L444.95,502.38 L443.10,500.97 L441.31,499.53 L439.57,498.05 L437.89,496.54 L436.26,495.00 L434.70,493.43 L433.19,491.83 L431.74,490.19 L430.35,488.53 L429.03,486.85 L427.77,485.13 L426.57,483.40 L425.43,481.63 L424.36,479.85 L423.36,478.04 L422.42,476.21 L421.55,474.36 L420.75,472.49 L420.02,470.60 L419.35,468.70 L418.76,466.77 L418.23,464.83 L417.77,462.88 L417.38,460.91 L417.07,458.92 L416.82,456.91 L416.64,454.88 L416.54,452.83 L416.50,450.70 L416.54,448.57 L416.64,446.52 L416.82,444.49 L417.07,442.48 L417.38,440.49 L417.77,438.52 L418.23,436.57 L418.76,434.63 L419.35,432.70 L420.02,430.80 L420.75,428.91 L421.55,427.04 L422.42,425.19 L423.36,423.36 L424.36,421.55 L425.43,419.77 L426.57,418.00 L427.77,416.27 L429.03,414.55 L430.35,412.87 L431.74,411.21 L433.19,409.57 L434.70,407.97 L436.26,406.40 L437.89,404.86 L439.57,403.35 L441.31,401.87 L443.10,400.43 L444.95,399.02 L446.85,397.64 L448.81,396.31 L450.81,395.01 L452.86,393.75 L454.96,392.52 L457.11,391.34 L459.30,390.20 L461.54,389.10 L463.82,388.03 L466.14,387.02 L468.50,386.04 L470.90,385.11 L473.33,384.22 L475.81,383.38 L478.31,382.58 L480.85,381.83 L483.42,381.13 L486.03,380.47 L488.66,379.85 L491.31,379.29 L494.00,378.77 L496.71,378.31 L499.44,377.89 L502.20,377.52 L504.98,377.19 L507.79,376.92 L510.61,376.70 L513.47,376.52 L516.35,376.40 L519.27,376.32 L522.30,376.30 L525.33,376.32 L528.25,376.40 L531.13,376.52 L533.99,376.70 L536.81,376.92 L539.62,377.19 L542.40,377.52 L545.16,377.89 L547.89,378.31 L550.60,378.77 L553.29,379.29 L555.94,379.85 L558.57,380.47 L561.18,381.13 L563.75,381.83 L566.29,382.58 L568.79,383.38 L571.27,384.22 L573.70,385.11 L576.10,386.04 L578.46,387.02 L580.78,388.03 L583.06,389.10 L585.30,390.20 L587.49,391.34 L589.64,392.52 L591.74,393.75 L593.79,395.01 L595.79,396.31 L597.75,397.64 L599.65,399.02 L601.50,400.43 L603.29,401.87 L605.03,403.35 L606.71,404.86 L608.34,406.40 L609.90,407.97 L611.41,409.57 L612.86,411.21 L614.25,412.87 L615.57,414.55 L616.83,416.27 L618.03,418.00 L619.17,419.77 L620.24,421.55 L621.24,423.36 L622.18,425.19 L623.05,427.04 L623.85,428.91 L624.58,430.80 L625.25,432.70 L625.84,434.63 L626.37,436.57 L626.83,438.52 L627.22,440.49 L627.53,442.48 L627.78,444.49 L627.96,446.52 L628.06,448.57 Z" fill="none" stroke="rgb(205,105,201)" stroke-opacity="0.58" stroke-width="1.5"/>
<text transform="translate(388.15,326.10) scale(1.415,1)" font-family="Liberation Serif" font-size="12.0" font-weight="bold" text-anchor="middle" fill="rgb(30,144,255)">ZC</text>
<text transform="translate(655.20,325.20) scale(1.390,1)" font-family="Liberation Serif" font-size="12.0" font-weight="bold" text-anchor="middle" fill="rgb(255,193,37)">ZCK</text>
<text transform="translate(521.95,540.80) scale(1.415,1)" font-family="Liberation Serif" font-size="12.0" font-weight="bold" text-anchor="middle" fill="rgb(205,105,201)">ZCS</text>
<text transform="translate(423.35,372.50) scale(1.285,1)" font-family="Liberation Serif" font-size="15.2" text-anchor="middle" fill="#111" stroke="#111" stroke-width="0.35">35</text>
<text transform="translate(522.40,353.60) scale(1.285,1)" font-family="Liberation Serif" font-size="15.2" text-anchor="middle" fill="#111" stroke="#111" stroke-width="0.35">13</text>
<text transform="translate(621.40,372.50) scale(1.285,1)" font-family="Liberation Serif" font-size="15.2" text-anchor="middle" fill="#111" stroke="#111" stroke-width="0.35">8</text>
<text transform="translate(522.40,413.10) scale(1.285,1)" font-family="Liberation Serif" font-size="15.2" text-anchor="middle" fill="#111" stroke="#111" stroke-width="0.35">85</text>
<text transform="translate(449.00,442.50) scale(1.285,1)" font-family="Liberation Serif" font-size="15.2" text-anchor="middle" fill="#111" stroke="#111" stroke-width="0.35">11</text>
<text transform="translate(595.45,442.80) scale(1.285,1)" font-family="Liberation Serif" font-size="15.2" text-anchor="middle" fill="#111" stroke="#111" stroke-width="0.35">8</text>
<text transform="translate(522.05,494.00) scale(1.285,1)" font-family="Liberation Serif" font-size="15.2" text-anchor="middle" fill="#111" stroke="#111" stroke-width="0.35">17</text>
<text x="13.8" y="544.6" font-family="Liberation Serif" font-size="16.3" fill="#111">(c)</text>
<text x="360" y="544.6" font-family="Liberation Serif" font-size="16.3" fill="#111">(d)</text>
</svg>
</body></html>
